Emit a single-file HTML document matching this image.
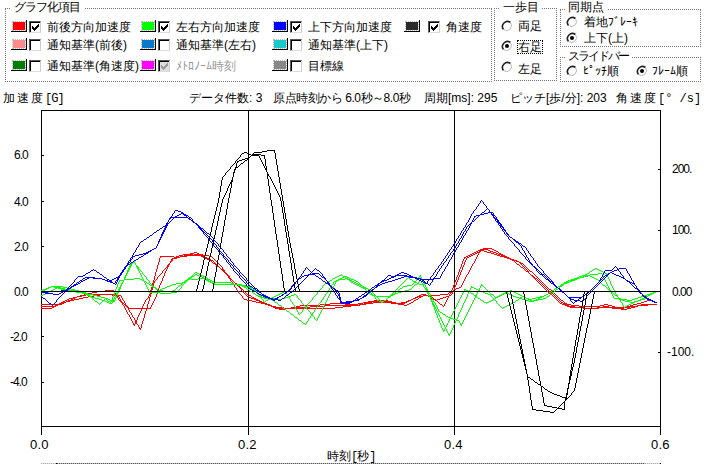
<!DOCTYPE html>
<html><head><meta charset="utf-8">
<style>
*{margin:0;padding:0;box-sizing:border-box}
html,body{width:706px;height:464px;overflow:hidden;background:#fff}
body{position:relative;font-family:"Liberation Sans",sans-serif;font-size:12px;color:#000;line-height:1}
.a{position:absolute;white-space:nowrap}
.gb{position:absolute;border:1px dotted #777}
.gt{position:absolute;background:#fff;padding:0 3px;margin-left:-2px;white-space:nowrap}
.sw{position:absolute;width:16px;height:12px;border-right:1px solid #000;border-bottom:1px solid #000}
.sw i{position:absolute;left:2px;top:2px;width:12px;height:8px;outline:1px dotted #bbb;outline-offset:0}
.cb{position:absolute;width:12px;height:12px;border-top:1px solid #555;border-left:1px solid #555;border-right:1px solid #ccc;border-bottom:1px solid #ddd;background:#fff}
.cb:before{content:"";position:absolute;left:0;top:0;right:0;bottom:0;border-top:1px solid #000;border-left:1px solid #000}
.ck{position:absolute;left:2px;top:2px}
.n{letter-spacing:-1px}
.m{font-family:"Liberation Sans",sans-serif;font-size:13px;letter-spacing:0.2px}
.rb{position:absolute;width:12px;height:12px}
</style></head><body>

<!-- group 1 -->
<div class="gb" style="left:5px;top:8px;width:487px;height:74px"></div>
<div class="gt" style="left:13px;top:1px;letter-spacing:-1px;padding-right:5px">グラフ化項目</div>

<!-- row 1 -->
<div class="sw" style="left:11px;top:20px"><i style="background:#f00"></i></div>
<div class="cb" style="left:29px;top:21px"><svg class="ck" width="7" height="7" shape-rendering="crispEdges"><path d="M0 2h1v3h-1zM1 3h1v3h-1zM2 4h1v3h-1zM3 3h1v3h-1zM4 2h1v3h-1zM5 1h1v3h-1zM6 0h1v3h-1z" fill="#000"/></svg></div>
<div class="a" style="left:47px;top:21px">前後方向加速度</div>

<div class="sw" style="left:140px;top:20px"><i style="background:#0f0"></i></div>
<div class="cb" style="left:158px;top:21px"><svg class="ck" width="7" height="7" shape-rendering="crispEdges"><path d="M0 2h1v3h-1zM1 3h1v3h-1zM2 4h1v3h-1zM3 3h1v3h-1zM4 2h1v3h-1zM5 1h1v3h-1zM6 0h1v3h-1z" fill="#000"/></svg></div>
<div class="a" style="left:176px;top:21px">左右方向加速度</div>

<div class="sw" style="left:272px;top:20px"><i style="background:#00f"></i></div>
<div class="cb" style="left:290px;top:21px"><svg class="ck" width="7" height="7" shape-rendering="crispEdges"><path d="M0 2h1v3h-1zM1 3h1v3h-1zM2 4h1v3h-1zM3 3h1v3h-1zM4 2h1v3h-1zM5 1h1v3h-1zM6 0h1v3h-1z" fill="#000"/></svg></div>
<div class="a" style="left:308px;top:21px">上下方向加速度</div>

<div class="sw" style="left:404px;top:20px"><i style="background:#2a2a2a"></i></div>
<div class="cb" style="left:428px;top:21px"><svg class="ck" width="7" height="7" shape-rendering="crispEdges"><path d="M0 2h1v3h-1zM1 3h1v3h-1zM2 4h1v3h-1zM3 3h1v3h-1zM4 2h1v3h-1zM5 1h1v3h-1zM6 0h1v3h-1z" fill="#000"/></svg></div>
<div class="a" style="left:446px;top:21px">角速度</div>

<!-- row 2 -->
<div class="sw" style="left:11px;top:38px"><i style="background:#ff8a8a"></i></div>
<div class="cb" style="left:29px;top:39px"></div>
<div class="a" style="left:47px;top:39px">通知基準(前後)</div>

<div class="sw" style="left:140px;top:38px"><i style="background:#0a7ac8"></i></div>
<div class="cb" style="left:158px;top:39px"></div>
<div class="a" style="left:176px;top:39px">通知基準(左右)</div>

<div class="sw" style="left:272px;top:38px"><i style="background:#1cc8c8"></i></div>
<div class="cb" style="left:290px;top:39px"></div>
<div class="a" style="left:308px;top:39px">通知基準(上下)</div>

<!-- row 3 -->
<div class="sw" style="left:11px;top:59px"><i style="background:#008000"></i></div>
<div class="cb" style="left:29px;top:60px"></div>
<div class="a" style="left:47px;top:60px">通知基準(角速度)</div>

<div class="sw" style="left:140px;top:59px"><i style="background:#f0f"></i></div>
<div class="cb" style="left:158px;top:60px;background:#ddd"><svg class="ck" width="7" height="7" shape-rendering="crispEdges"><path d="M0 2h1v3h-1zM1 3h1v3h-1zM2 4h1v3h-1zM3 3h1v3h-1zM4 2h1v3h-1zM5 1h1v3h-1zM6 0h1v3h-1z" fill="#999"/></svg></div>
<div class="a" style="left:176px;top:60px;color:#999">ﾒﾄﾛﾉｰﾑ時刻</div>

<div class="sw" style="left:272px;top:59px"><i style="background:#888"></i></div>
<div class="cb" style="left:290px;top:60px"></div>
<div class="a" style="left:308px;top:60px">目標線</div>

<!-- group 2 一歩目 -->
<div class="gb" style="left:494px;top:8px;width:63px;height:73px"></div>
<div class="gt" style="left:502px;top:1px">一歩目</div>
<svg class="rb" style="left:501px;top:20px" width="12" height="12"><path d="M2.5 9.5A5 5 0 0 1 9.5 2.5" stroke="#222" stroke-width="1.6" fill="none"/><path d="M9.5 2.5A5 5 0 0 1 2.5 9.5" stroke="#bbb" stroke-width="1" fill="none"/></svg>
<div class="a" style="left:518px;top:20px">両足</div>
<svg class="rb" style="left:501px;top:40px" width="12" height="12"><path d="M2.5 9.5A5 5 0 0 1 9.5 2.5" stroke="#222" stroke-width="1.6" fill="none"/><path d="M9.5 2.5A5 5 0 0 1 2.5 9.5" stroke="#bbb" stroke-width="1" fill="none"/><circle cx="6" cy="6" r="2" fill="#000"/></svg>
<div class="a" style="left:518px;top:41px;outline:1px dotted #000;outline-offset:0px">右足</div>
<svg class="rb" style="left:501px;top:61px" width="12" height="12"><path d="M2.5 9.5A5 5 0 0 1 9.5 2.5" stroke="#222" stroke-width="1.6" fill="none"/><path d="M9.5 2.5A5 5 0 0 1 2.5 9.5" stroke="#bbb" stroke-width="1" fill="none"/></svg>
<div class="a" style="left:518px;top:63px">左足</div>

<!-- group 3 同期点 -->
<div class="gb" style="left:560px;top:9px;width:141px;height:38px"></div>
<div class="gt" style="left:567px;top:1px">同期点</div>
<svg class="rb" style="left:566px;top:16px" width="12" height="12"><path d="M2.5 9.5A5 5 0 0 1 9.5 2.5" stroke="#222" stroke-width="1.6" fill="none"/><path d="M9.5 2.5A5 5 0 0 1 2.5 9.5" stroke="#bbb" stroke-width="1" fill="none"/></svg>
<div class="a" style="left:584px;top:16px">着地ﾌﾞﾚｰｷ</div>
<svg class="rb" style="left:566px;top:32px" width="12" height="12"><path d="M2.5 9.5A5 5 0 0 1 9.5 2.5" stroke="#222" stroke-width="1.6" fill="none"/><path d="M9.5 2.5A5 5 0 0 1 2.5 9.5" stroke="#bbb" stroke-width="1" fill="none"/><circle cx="6" cy="6" r="2" fill="#000"/></svg>
<div class="a" style="left:584px;top:32px">上下(上)</div>

<!-- group 4 スライドバー -->
<div class="gb" style="left:560px;top:57px;width:141px;height:25px"></div>
<div class="gt" style="left:567px;top:50px;letter-spacing:-2px">スライドバー</div>
<svg class="rb" style="left:566px;top:65px" width="12" height="12"><path d="M2.5 9.5A5 5 0 0 1 9.5 2.5" stroke="#222" stroke-width="1.6" fill="none"/><path d="M9.5 2.5A5 5 0 0 1 2.5 9.5" stroke="#bbb" stroke-width="1" fill="none"/></svg>
<div class="a" style="left:583px;top:65px">ﾋﾟｯﾁ順</div>
<svg class="rb" style="left:636px;top:65px" width="12" height="12"><path d="M2.5 9.5A5 5 0 0 1 9.5 2.5" stroke="#222" stroke-width="1.6" fill="none"/><path d="M9.5 2.5A5 5 0 0 1 2.5 9.5" stroke="#bbb" stroke-width="1" fill="none"/><circle cx="6" cy="6" r="2" fill="#000"/></svg>
<div class="a" style="left:652px;top:65px">ﾌﾚｰﾑ順</div>

<!-- info line -->
<div class="a" style="left:3px;top:92px;letter-spacing:2px">加速度<span style="font-family:'Liberation Mono';letter-spacing:-1px">[G]</span></div>
<div class="a" style="left:189px;top:92px">データ件数: 3</div>
<div class="a" style="left:273px;top:92px;letter-spacing:-0.45px">原点時刻から 6.0秒～8.0秒</div>
<div class="a" style="left:424px;top:92px">周期[ms]: 295</div>
<div class="a" style="left:510px;top:92px">ピッチ[歩/分]: 203</div>
<div class="a" style="left:616px;top:92px;letter-spacing:2px">角速度<span style="font-family:'Liberation Mono';letter-spacing:0">[° /s]</span></div>

<!-- left axis labels -->
<div class="a n" style="left:14px;top:149px">6.0</div>
<div class="a n" style="left:14px;top:196px">4.0</div>
<div class="a n" style="left:14px;top:241px">2.0</div>
<div class="a n" style="left:14px;top:286px">0.0</div>
<div class="a n" style="left:10px;top:331px">-2.0</div>
<div class="a n" style="left:10px;top:376px">-4.0</div>

<!-- right axis labels -->
<div class="a n" style="left:672px;top:163px">200.</div>
<div class="a n" style="left:672px;top:224px">100.</div>
<div class="a n" style="left:672px;top:286px">0.00</div>
<div class="a" style="left:667px;top:346px">-100.</div>

<!-- x labels -->
<div class="a m" style="left:30px;top:438px">0.0</div>
<div class="a m" style="left:238px;top:438px">0.2</div>
<div class="a m" style="left:444px;top:438px">0.4</div>
<div class="a m" style="left:651px;top:438px">0.6</div>
<div class="a" style="left:327px;top:450px">時刻<span style="font-family:'Liberation Mono';letter-spacing:-1px">[</span>秒<span style="font-family:'Liberation Mono'">]</span></div>
<div class="a" style="left:41px;top:463px;width:620px;height:1px;background:repeating-linear-gradient(90deg,#aaa 0 1px,#e4e4e4 1px 2px)"></div>
<div class="a" style="left:57px;top:463px;width:588px;height:1px;background:repeating-linear-gradient(90deg,#555 0 1px,#bbb 1px 2px)"></div>
<div class="a" style="left:56px;top:463px;width:1px;height:1px;background:#000"></div>
<div class="a" style="left:660px;top:463px;width:1px;height:1px;background:#000"></div>


<svg width="706" height="464" style="position:absolute;left:0;top:0">
<g fill="none" stroke-width="1" shape-rendering="crispEdges">
<rect x="41.5" y="110.5" width="619" height="316" stroke="#000"/>
<line x1="248.5" y1="110" x2="248.5" y2="435" stroke="#000"/>
<line x1="454.5" y1="110" x2="454.5" y2="435" stroke="#000"/>
<line x1="41.5" y1="426" x2="41.5" y2="435" stroke="#000"/>
<line x1="660.5" y1="426" x2="660.5" y2="435" stroke="#000"/>
<line x1="42" y1="155.5" x2="44" y2="155.5" stroke="#000"/>
<line x1="42" y1="201.5" x2="44" y2="201.5" stroke="#000"/>
<line x1="42" y1="246.5" x2="44" y2="246.5" stroke="#000"/>
<line x1="42" y1="336.5" x2="44" y2="336.5" stroke="#000"/>
<line x1="42" y1="382.5" x2="44" y2="382.5" stroke="#000"/>
<line x1="658" y1="169.5" x2="660" y2="169.5" stroke="#000"/>
<line x1="658" y1="230.5" x2="660" y2="230.5" stroke="#000"/>
<line x1="658" y1="352.5" x2="660" y2="352.5" stroke="#000"/>
</g>
<rect x="41" y="291" width="620" height="1" fill="#000"/>
<g shape-rendering="crispEdges">
<path fill="#ff0000" d="M483 248h9v1h-9zM480 249h8v1h-8zM492 249h2v1h-2zM478 250h6v1h-6zM488 250h2v1h-2zM494 250h2v1h-2zM476 251h2v1h-2zM479 251h2v1h-2zM484 251h3v1h-3zM490 251h3v1h-3zM496 251h2v1h-2zM194 252h3v1h-3zM474 252h2v1h-2zM477 252h3v1h-3zM487 252h4v1h-4zM493 252h3v1h-3zM498 252h1v1h-1zM190 253h4v1h-4zM197 253h2v1h-2zM472 253h2v1h-2zM475 253h2v1h-2zM478 253h1v1h-1zM491 253h3v1h-3zM496 253h2v1h-2zM499 253h2v1h-2zM183 254h10v1h-10zM194 254h9v1h-9zM470 254h2v1h-2zM473 254h2v1h-2zM478 254h1v1h-1zM494 254h3v1h-3zM498 254h5v1h-5zM179 255h4v1h-4zM184 255h25v1h-25zM468 255h2v1h-2zM471 255h2v1h-2zM477 255h1v1h-1zM497 255h3v1h-3zM501 255h4v1h-4zM160 256h14v1h-14zM176 256h3v1h-3zM180 256h7v1h-7zM201 256h4v1h-4zM209 256h3v1h-3zM466 256h2v1h-2zM469 256h2v1h-2zM477 256h1v1h-1zM500 256h7v1h-7zM160 257h1v1h-1zM174 257h6v1h-6zM203 257h4v1h-4zM212 257h1v1h-1zM464 257h2v1h-2zM467 257h2v1h-2zM476 257h1v1h-1zM504 257h5v1h-5zM159 258h1v1h-1zM172 258h5v1h-5zM205 258h4v1h-4zM213 258h1v1h-1zM464 258h1v1h-1zM466 258h1v1h-1zM476 258h1v1h-1zM507 258h4v1h-4zM159 259h1v1h-1zM171 259h2v1h-2zM207 259h4v1h-4zM214 259h1v1h-1zM463 259h1v1h-1zM466 259h1v1h-1zM475 259h1v1h-1zM510 259h4v1h-4zM159 260h1v1h-1zM171 260h2v1h-2zM209 260h4v1h-4zM215 260h1v1h-1zM463 260h1v1h-1zM465 260h1v1h-1zM475 260h1v1h-1zM512 260h5v1h-5zM159 261h1v1h-1zM170 261h2v1h-2zM211 261h1v1h-1zM213 261h1v1h-1zM216 261h1v1h-1zM462 261h1v1h-1zM465 261h1v1h-1zM474 261h1v1h-1zM514 261h1v1h-1zM516 261h3v1h-3zM158 262h1v1h-1zM170 262h1v1h-1zM212 262h1v1h-1zM214 262h1v1h-1zM217 262h1v1h-1zM462 262h1v1h-1zM464 262h1v1h-1zM474 262h1v1h-1zM515 262h1v1h-1zM519 262h2v1h-2zM158 263h1v1h-1zM169 263h1v1h-1zM213 263h3v1h-3zM218 263h1v1h-1zM462 263h1v1h-1zM464 263h1v1h-1zM473 263h1v1h-1zM516 263h1v1h-1zM520 263h3v1h-3zM158 264h1v1h-1zM168 264h2v1h-2zM215 264h2v1h-2zM219 264h1v1h-1zM461 264h1v1h-1zM464 264h1v1h-1zM472 264h1v1h-1zM517 264h2v1h-2zM521 264h1v1h-1zM523 264h1v1h-1zM157 265h1v1h-1zM167 265h2v1h-2zM216 265h2v1h-2zM220 265h1v1h-1zM461 265h1v1h-1zM463 265h1v1h-1zM472 265h1v1h-1zM519 265h1v1h-1zM522 265h1v1h-1zM524 265h1v1h-1zM157 266h1v1h-1zM167 266h2v1h-2zM217 266h2v1h-2zM221 266h1v1h-1zM461 266h1v1h-1zM463 266h1v1h-1zM471 266h1v1h-1zM520 266h1v1h-1zM523 266h1v1h-1zM525 266h1v1h-1zM157 267h1v1h-1zM166 267h2v1h-2zM219 267h1v1h-1zM222 267h1v1h-1zM460 267h1v1h-1zM462 267h1v1h-1zM471 267h1v1h-1zM521 267h2v1h-2zM524 267h1v1h-1zM526 267h1v1h-1zM157 268h1v1h-1zM165 268h1v1h-1zM167 268h1v1h-1zM220 268h1v1h-1zM222 268h1v1h-1zM460 268h1v1h-1zM462 268h1v1h-1zM470 268h1v1h-1zM523 268h1v1h-1zM525 268h1v1h-1zM527 268h1v1h-1zM156 269h1v1h-1zM164 269h1v1h-1zM166 269h1v1h-1zM221 269h3v1h-3zM459 269h1v1h-1zM462 269h1v1h-1zM470 269h1v1h-1zM524 269h1v1h-1zM526 269h1v1h-1zM528 269h1v1h-1zM156 270h1v1h-1zM163 270h1v1h-1zM166 270h1v1h-1zM222 270h3v1h-3zM459 270h1v1h-1zM461 270h1v1h-1zM469 270h1v1h-1zM525 270h1v1h-1zM527 270h1v1h-1zM529 270h1v1h-1zM156 271h1v1h-1zM162 271h1v1h-1zM165 271h1v1h-1zM223 271h2v1h-2zM459 271h1v1h-1zM461 271h1v1h-1zM469 271h1v1h-1zM526 271h3v1h-3zM530 271h2v1h-2zM155 272h1v1h-1zM162 272h1v1h-1zM165 272h1v1h-1zM224 272h2v1h-2zM458 272h1v1h-1zM460 272h1v1h-1zM468 272h1v1h-1zM528 272h1v1h-1zM532 272h1v1h-1zM155 273h1v1h-1zM161 273h1v1h-1zM164 273h1v1h-1zM225 273h2v1h-2zM458 273h1v1h-1zM460 273h1v1h-1zM468 273h1v1h-1zM529 273h1v1h-1zM533 273h1v1h-1zM155 274h1v1h-1zM160 274h1v1h-1zM164 274h1v1h-1zM226 274h2v1h-2zM458 274h1v1h-1zM460 274h1v1h-1zM467 274h1v1h-1zM530 274h1v1h-1zM534 274h1v1h-1zM155 275h1v1h-1zM159 275h1v1h-1zM164 275h1v1h-1zM227 275h2v1h-2zM457 275h1v1h-1zM459 275h1v1h-1zM466 275h1v1h-1zM531 275h2v1h-2zM535 275h1v1h-1zM154 276h1v1h-1zM158 276h1v1h-1zM163 276h1v1h-1zM228 276h2v1h-2zM457 276h1v1h-1zM459 276h1v1h-1zM466 276h1v1h-1zM532 276h2v1h-2zM536 276h1v1h-1zM154 277h1v1h-1zM157 277h1v1h-1zM163 277h1v1h-1zM228 277h2v1h-2zM456 277h1v1h-1zM458 277h1v1h-1zM465 277h1v1h-1zM533 277h2v1h-2zM537 277h1v1h-1zM154 278h1v1h-1zM157 278h1v1h-1zM162 278h1v1h-1zM229 278h2v1h-2zM456 278h1v1h-1zM458 278h1v1h-1zM465 278h1v1h-1zM534 278h3v1h-3zM538 278h1v1h-1zM154 279h1v1h-1zM156 279h1v1h-1zM162 279h1v1h-1zM230 279h2v1h-2zM456 279h1v1h-1zM458 279h1v1h-1zM464 279h1v1h-1zM535 279h1v1h-1zM537 279h1v1h-1zM539 279h1v1h-1zM153 280h1v1h-1zM155 280h1v1h-1zM162 280h1v1h-1zM230 280h1v1h-1zM232 280h1v1h-1zM455 280h1v1h-1zM457 280h1v1h-1zM464 280h1v1h-1zM536 280h1v1h-1zM538 280h1v1h-1zM540 280h1v1h-1zM153 281h2v1h-2zM161 281h1v1h-1zM231 281h1v1h-1zM233 281h1v1h-1zM455 281h1v1h-1zM457 281h1v1h-1zM463 281h1v1h-1zM537 281h1v1h-1zM539 281h1v1h-1zM541 281h1v1h-1zM153 282h2v1h-2zM161 282h1v1h-1zM232 282h1v1h-1zM234 282h1v1h-1zM454 282h1v1h-1zM456 282h1v1h-1zM463 282h1v1h-1zM538 282h1v1h-1zM540 282h1v1h-1zM542 282h1v1h-1zM152 283h2v1h-2zM160 283h1v1h-1zM232 283h1v1h-1zM235 283h2v1h-2zM454 283h1v1h-1zM456 283h1v1h-1zM462 283h1v1h-1zM539 283h1v1h-1zM541 283h1v1h-1zM543 283h1v1h-1zM152 284h2v1h-2zM160 284h1v1h-1zM233 284h1v1h-1zM236 284h2v1h-2zM454 284h1v1h-1zM456 284h1v1h-1zM462 284h1v1h-1zM540 284h1v1h-1zM542 284h1v1h-1zM544 284h1v1h-1zM152 285h2v1h-2zM159 285h1v1h-1zM234 285h1v1h-1zM237 285h2v1h-2zM453 285h1v1h-1zM455 285h1v1h-1zM461 285h1v1h-1zM541 285h1v1h-1zM543 285h1v1h-1zM545 285h1v1h-1zM152 286h2v1h-2zM159 286h1v1h-1zM234 286h1v1h-1zM238 286h2v1h-2zM453 286h1v1h-1zM455 286h1v1h-1zM461 286h1v1h-1zM542 286h1v1h-1zM544 286h1v1h-1zM546 286h1v1h-1zM151 287h2v1h-2zM159 287h1v1h-1zM235 287h1v1h-1zM239 287h2v1h-2zM453 287h2v1h-2zM459 287h2v1h-2zM543 287h1v1h-1zM545 287h1v1h-1zM547 287h1v1h-1zM151 288h2v1h-2zM158 288h1v1h-1zM236 288h1v1h-1zM240 288h2v1h-2zM452 288h1v1h-1zM454 288h1v1h-1zM456 288h3v1h-3zM544 288h1v1h-1zM546 288h1v1h-1zM548 288h1v1h-1zM151 289h2v1h-2zM158 289h1v1h-1zM236 289h1v1h-1zM241 289h2v1h-2zM452 289h1v1h-1zM454 289h2v1h-2zM545 289h1v1h-1zM547 289h1v1h-1zM549 289h2v1h-2zM105 290h9v1h-9zM150 290h2v1h-2zM157 290h1v1h-1zM237 290h1v1h-1zM241 290h1v1h-1zM243 290h1v1h-1zM451 290h1v1h-1zM453 290h1v1h-1zM546 290h1v1h-1zM548 290h1v1h-1zM551 290h1v1h-1zM97 291h8v1h-8zM114 291h1v1h-1zM150 291h2v1h-2zM157 291h1v1h-1zM238 291h1v1h-1zM242 291h1v1h-1zM244 291h1v1h-1zM451 291h3v1h-3zM547 291h1v1h-1zM549 291h2v1h-2zM552 291h1v1h-1zM92 292h5v1h-5zM114 292h1v1h-1zM150 292h2v1h-2zM157 292h1v1h-1zM238 292h1v1h-1zM243 292h1v1h-1zM245 292h1v1h-1zM449 292h4v1h-4zM548 292h1v1h-1zM551 292h1v1h-1zM553 292h1v1h-1zM88 293h4v1h-4zM115 293h1v1h-1zM150 293h2v1h-2zM157 293h1v1h-1zM239 293h1v1h-1zM244 293h1v1h-1zM246 293h1v1h-1zM448 293h1v1h-1zM450 293h1v1h-1zM452 293h1v1h-1zM549 293h2v1h-2zM552 293h1v1h-1zM554 293h1v1h-1zM84 294h34v1h-34zM149 294h2v1h-2zM156 294h1v1h-1zM240 294h1v1h-1zM245 294h1v1h-1zM247 294h2v1h-2zM421 294h5v1h-5zM440 294h8v1h-8zM449 294h1v1h-1zM451 294h1v1h-1zM551 294h1v1h-1zM553 294h1v1h-1zM555 294h1v1h-1zM80 295h6v1h-6zM94 295h6v1h-6zM112 295h9v1h-9zM149 295h2v1h-2zM156 295h1v1h-1zM241 295h1v1h-1zM246 295h1v1h-1zM249 295h2v1h-2zM419 295h2v1h-2zM423 295h17v1h-17zM449 295h2v1h-2zM552 295h1v1h-1zM554 295h1v1h-1zM556 295h1v1h-1zM77 296h5v1h-5zM88 296h6v1h-6zM117 296h2v1h-2zM121 296h1v1h-1zM148 296h1v1h-1zM150 296h1v1h-1zM156 296h1v1h-1zM242 296h1v1h-1zM247 296h2v1h-2zM251 296h1v1h-1zM417 296h6v1h-6zM428 296h4v1h-4zM446 296h3v1h-3zM553 296h1v1h-1zM555 296h1v1h-1zM557 296h1v1h-1zM73 297h4v1h-4zM83 297h5v1h-5zM117 297h1v1h-1zM119 297h1v1h-1zM121 297h1v1h-1zM148 297h2v1h-2zM155 297h1v1h-1zM242 297h1v1h-1zM249 297h2v1h-2zM252 297h2v1h-2zM415 297h3v1h-3zM419 297h2v1h-2zM430 297h1v1h-1zM432 297h1v1h-1zM443 297h3v1h-3zM448 297h1v1h-1zM554 297h1v1h-1zM556 297h1v1h-1zM558 297h1v1h-1zM69 298h6v1h-6zM79 298h4v1h-4zM118 298h2v1h-2zM122 298h1v1h-1zM147 298h1v1h-1zM149 298h1v1h-1zM155 298h1v1h-1zM243 298h1v1h-1zM251 298h5v1h-5zM413 298h3v1h-3zM418 298h1v1h-1zM431 298h3v1h-3zM440 298h3v1h-3zM447 298h1v1h-1zM555 298h1v1h-1zM557 298h1v1h-1zM559 298h1v1h-1zM67 299h2v1h-2zM71 299h2v1h-2zM74 299h5v1h-5zM118 299h1v1h-1zM120 299h1v1h-1zM122 299h1v1h-1zM146 299h1v1h-1zM149 299h1v1h-1zM154 299h1v1h-1zM244 299h3v1h-3zM254 299h4v1h-4zM411 299h2v1h-2zM416 299h2v1h-2zM433 299h3v1h-3zM437 299h3v1h-3zM447 299h1v1h-1zM556 299h1v1h-1zM558 299h1v1h-1zM560 299h1v1h-1zM65 300h2v1h-2zM68 300h6v1h-6zM119 300h2v1h-2zM123 300h1v1h-1zM145 300h1v1h-1zM149 300h1v1h-1zM154 300h1v1h-1zM247 300h5v1h-5zM256 300h4v1h-4zM374 300h14v1h-14zM408 300h3v1h-3zM414 300h2v1h-2zM435 300h2v1h-2zM446 300h1v1h-1zM557 300h1v1h-1zM559 300h1v1h-1zM561 300h2v1h-2zM647 300h2v1h-2zM63 301h2v1h-2zM66 301h4v1h-4zM120 301h2v1h-2zM124 301h1v1h-1zM145 301h1v1h-1zM148 301h1v1h-1zM153 301h1v1h-1zM252 301h4v1h-4zM259 301h3v1h-3zM368 301h12v1h-12zM383 301h9v1h-9zM406 301h3v1h-3zM413 301h1v1h-1zM437 301h1v1h-1zM446 301h1v1h-1zM558 301h1v1h-1zM560 301h1v1h-1zM563 301h1v1h-1zM644 301h3v1h-3zM61 302h5v1h-5zM121 302h2v1h-2zM124 302h1v1h-1zM144 302h1v1h-1zM148 302h1v1h-1zM153 302h1v1h-1zM256 302h8v1h-8zM363 302h9v1h-9zM373 302h23v1h-23zM401 302h6v1h-6zM411 302h2v1h-2zM438 302h1v1h-1zM445 302h1v1h-1zM559 302h1v1h-1zM561 302h2v1h-2zM564 302h1v1h-1zM641 302h3v1h-3zM59 303h5v1h-5zM122 303h2v1h-2zM125 303h1v1h-1zM144 303h1v1h-1zM148 303h1v1h-1zM152 303h1v1h-1zM261 303h6v1h-6zM330 303h15v1h-15zM358 303h5v1h-5zM364 303h9v1h-9zM391 303h14v1h-14zM409 303h2v1h-2zM439 303h1v1h-1zM445 303h1v1h-1zM560 303h2v1h-2zM563 303h4v1h-4zM637 303h4v1h-4zM41 304h21v1h-21zM122 304h1v1h-1zM124 304h2v1h-2zM143 304h1v1h-1zM147 304h1v1h-1zM152 304h1v1h-1zM265 304h5v1h-5zM320 304h10v1h-10zM345 304h13v1h-13zM359 304h7v1h-7zM398 304h6v1h-6zM407 304h2v1h-2zM440 304h2v1h-2zM444 304h1v1h-1zM562 304h9v1h-9zM604 304h4v1h-4zM633 304h4v1h-4zM641 304h16v1h-16zM55 305h3v1h-3zM123 305h1v1h-1zM125 305h2v1h-2zM143 305h1v1h-1zM147 305h1v1h-1zM151 305h1v1h-1zM268 305h4v1h-4zM300 305h20v1h-20zM325 305h35v1h-35zM404 305h3v1h-3zM442 305h1v1h-1zM444 305h1v1h-1zM565 305h4v1h-4zM571 305h8v1h-8zM600 305h4v1h-4zM608 305h4v1h-4zM630 305h3v1h-3zM637 305h11v1h-11zM41 306h15v1h-15zM124 306h1v1h-1zM126 306h2v1h-2zM142 306h1v1h-1zM147 306h1v1h-1zM151 306h1v1h-1zM271 306h5v1h-5zM296 306h4v1h-4zM310 306h15v1h-15zM343 306h8v1h-8zM443 306h1v1h-1zM567 306h8v1h-8zM579 306h21v1h-21zM603 306h6v1h-6zM612 306h3v1h-3zM626 306h12v1h-12zM52 307h2v1h-2zM124 307h1v1h-1zM127 307h2v1h-2zM142 307h1v1h-1zM147 307h1v1h-1zM150 307h1v1h-1zM273 307h11v1h-11zM291 307h19v1h-19zM335 307h8v1h-8zM570 307h15v1h-15zM597 307h33v1h-33zM631 307h4v1h-4zM41 308h11v1h-11zM125 308h1v1h-1zM128 308h23v1h-23zM275 308h60v1h-60zM583 308h16v1h-16zM612 308h12v1h-12zM627 308h4v1h-4zM125 309h1v1h-1zM128 309h1v1h-1zM141 309h1v1h-1zM146 309h1v1h-1zM279 309h6v1h-6zM621 309h6v1h-6zM126 310h1v1h-1zM129 310h1v1h-1zM141 310h1v1h-1zM146 310h1v1h-1zM126 311h1v1h-1zM129 311h1v1h-1zM140 311h1v1h-1zM145 311h1v1h-1zM127 312h1v1h-1zM130 312h1v1h-1zM140 312h1v1h-1zM145 312h1v1h-1zM127 313h1v1h-1zM131 313h1v1h-1zM139 313h1v1h-1zM145 313h1v1h-1zM128 314h1v1h-1zM131 314h1v1h-1zM139 314h1v1h-1zM144 314h1v1h-1zM129 315h1v1h-1zM132 315h1v1h-1zM138 315h1v1h-1zM144 315h1v1h-1zM129 316h1v1h-1zM132 316h1v1h-1zM138 316h1v1h-1zM144 316h1v1h-1zM130 317h1v1h-1zM133 317h1v1h-1zM137 317h1v1h-1zM144 317h1v1h-1zM130 318h1v1h-1zM134 318h1v1h-1zM137 318h1v1h-1zM143 318h1v1h-1zM131 319h1v1h-1zM134 319h1v1h-1zM137 319h1v1h-1zM143 319h1v1h-1zM131 320h1v1h-1zM135 320h2v1h-2zM143 320h1v1h-1zM132 321h1v1h-1zM135 321h2v1h-2zM142 321h1v1h-1zM132 322h1v1h-1zM135 322h2v1h-2zM142 322h1v1h-1zM133 323h1v1h-1zM135 323h2v1h-2zM142 323h1v1h-1zM133 324h2v1h-2zM137 324h1v1h-1zM141 324h1v1h-1zM134 325h1v1h-1zM138 325h1v1h-1zM141 325h1v1h-1zM138 326h1v1h-1zM141 326h1v1h-1zM139 327h1v1h-1zM141 327h1v1h-1zM139 328h2v1h-2zM140 329h1v1h-1z"/>
<path fill="#00ff00" d="M133 261h2v1h-2zM132 262h3v1h-3zM131 263h2v1h-2zM135 263h1v1h-1zM130 264h2v1h-2zM135 264h1v1h-1zM130 265h2v1h-2zM136 265h1v1h-1zM129 266h2v1h-2zM136 266h2v1h-2zM129 267h2v1h-2zM137 267h2v1h-2zM128 268h2v1h-2zM137 268h2v1h-2zM595 268h2v1h-2zM128 269h2v1h-2zM138 269h2v1h-2zM593 269h2v1h-2zM597 269h2v1h-2zM127 270h2v1h-2zM138 270h1v1h-1zM140 270h1v1h-1zM592 270h1v1h-1zM599 270h2v1h-2zM127 271h2v1h-2zM139 271h1v1h-1zM141 271h1v1h-1zM590 271h2v1h-2zM601 271h2v1h-2zM127 272h1v1h-1zM139 272h1v1h-1zM142 272h1v1h-1zM195 272h2v1h-2zM589 272h1v1h-1zM603 272h2v1h-2zM126 273h2v1h-2zM140 273h1v1h-1zM142 273h1v1h-1zM194 273h1v1h-1zM197 273h2v1h-2zM587 273h2v1h-2zM598 273h4v1h-4zM605 273h2v1h-2zM126 274h1v1h-1zM140 274h1v1h-1zM143 274h1v1h-1zM193 274h1v1h-1zM195 274h2v1h-2zM199 274h2v1h-2zM341 274h1v1h-1zM585 274h2v1h-2zM590 274h8v1h-8zM602 274h1v1h-1zM606 274h1v1h-1zM125 275h2v1h-2zM141 275h1v1h-1zM144 275h1v1h-1zM192 275h1v1h-1zM194 275h1v1h-1zM197 275h2v1h-2zM201 275h2v1h-2zM339 275h2v1h-2zM342 275h1v1h-1zM420 275h1v1h-1zM582 275h8v1h-8zM602 275h1v1h-1zM607 275h1v1h-1zM125 276h1v1h-1zM141 276h1v1h-1zM145 276h1v1h-1zM191 276h3v1h-3zM199 276h3v1h-3zM203 276h2v1h-2zM337 276h2v1h-2zM343 276h4v1h-4zM419 276h2v1h-2zM579 276h3v1h-3zM583 276h5v1h-5zM590 276h2v1h-2zM603 276h1v1h-1zM607 276h1v1h-1zM124 277h2v1h-2zM142 277h1v1h-1zM146 277h1v1h-1zM189 277h3v1h-3zM202 277h2v1h-2zM205 277h2v1h-2zM335 277h2v1h-2zM342 277h2v1h-2zM345 277h1v1h-1zM347 277h2v1h-2zM408 277h1v1h-1zM418 277h1v1h-1zM421 277h1v1h-1zM577 277h2v1h-2zM580 277h4v1h-4zM592 277h2v1h-2zM603 277h1v1h-1zM608 277h1v1h-1zM124 278h1v1h-1zM134 278h6v1h-6zM142 278h1v1h-1zM146 278h1v1h-1zM188 278h3v1h-3zM198 278h8v1h-8zM207 278h1v1h-1zM333 278h2v1h-2zM340 278h2v1h-2zM345 278h3v1h-3zM349 278h2v1h-2zM407 278h1v1h-1zM409 278h1v1h-1zM417 278h1v1h-1zM421 278h1v1h-1zM574 278h6v1h-6zM594 278h2v1h-2zM604 278h1v1h-1zM608 278h1v1h-1zM124 279h10v1h-10zM140 279h2v1h-2zM143 279h1v1h-1zM147 279h1v1h-1zM187 279h3v1h-3zM191 279h7v1h-7zM204 279h6v1h-6zM332 279h1v1h-1zM338 279h7v1h-7zM347 279h3v1h-3zM351 279h3v1h-3zM406 279h1v1h-1zM410 279h2v1h-2zM416 279h1v1h-1zM422 279h1v1h-1zM571 279h6v1h-6zM596 279h2v1h-2zM604 279h1v1h-1zM609 279h1v1h-1zM119 280h5v1h-5zM142 280h2v1h-2zM148 280h1v1h-1zM185 280h3v1h-3zM206 280h3v1h-3zM210 280h2v1h-2zM330 280h2v1h-2zM336 280h3v1h-3zM349 280h3v1h-3zM354 280h2v1h-2zM405 280h1v1h-1zM412 280h1v1h-1zM416 280h1v1h-1zM420 280h1v1h-1zM422 280h1v1h-1zM568 280h7v1h-7zM598 280h1v1h-1zM605 280h1v1h-1zM609 280h1v1h-1zM119 281h1v1h-1zM123 281h1v1h-1zM144 281h2v1h-2zM149 281h1v1h-1zM184 281h3v1h-3zM208 281h3v1h-3zM212 281h2v1h-2zM328 281h2v1h-2zM334 281h3v1h-3zM350 281h1v1h-1zM352 281h2v1h-2zM356 281h2v1h-2zM404 281h1v1h-1zM413 281h3v1h-3zM419 281h1v1h-1zM421 281h1v1h-1zM423 281h1v1h-1zM566 281h3v1h-3zM570 281h2v1h-2zM599 281h1v1h-1zM605 281h1v1h-1zM610 281h1v1h-1zM118 282h1v1h-1zM122 282h1v1h-1zM144 282h1v1h-1zM146 282h1v1h-1zM149 282h1v1h-1zM182 282h4v1h-4zM210 282h3v1h-3zM214 282h17v1h-17zM326 282h2v1h-2zM333 282h1v1h-1zM335 282h1v1h-1zM351 282h2v1h-2zM354 282h2v1h-2zM358 282h1v1h-1zM403 282h1v1h-1zM414 282h3v1h-3zM418 282h1v1h-1zM421 282h1v1h-1zM423 282h1v1h-1zM564 282h6v1h-6zM600 282h1v1h-1zM606 282h1v1h-1zM610 282h1v1h-1zM118 283h1v1h-1zM121 283h2v1h-2zM145 283h1v1h-1zM147 283h2v1h-2zM150 283h1v1h-1zM176 283h7v1h-7zM184 283h1v1h-1zM212 283h3v1h-3zM231 283h3v1h-3zM325 283h1v1h-1zM333 283h1v1h-1zM335 283h1v1h-1zM353 283h2v1h-2zM356 283h2v1h-2zM359 283h1v1h-1zM402 283h1v1h-1zM413 283h1v1h-1zM417 283h2v1h-2zM422 283h1v1h-1zM424 283h1v1h-1zM563 283h4v1h-4zM601 283h1v1h-1zM606 283h1v1h-1zM610 283h1v1h-1zM117 284h1v1h-1zM121 284h1v1h-1zM145 284h1v1h-1zM149 284h1v1h-1zM151 284h1v1h-1zM172 284h4v1h-4zM181 284h1v1h-1zM183 284h1v1h-1zM214 284h28v1h-28zM324 284h1v1h-1zM332 284h1v1h-1zM334 284h1v1h-1zM355 284h2v1h-2zM358 284h3v1h-3zM401 284h1v1h-1zM412 284h1v1h-1zM415 284h2v1h-2zM419 284h6v1h-6zM481 284h1v1h-1zM561 284h3v1h-3zM602 284h1v1h-1zM607 284h1v1h-1zM611 284h1v1h-1zM117 285h1v1h-1zM120 285h2v1h-2zM146 285h1v1h-1zM150 285h3v1h-3zM170 285h2v1h-2zM179 285h2v1h-2zM182 285h1v1h-1zM238 285h8v1h-8zM323 285h1v1h-1zM331 285h1v1h-1zM334 285h1v1h-1zM357 285h2v1h-2zM360 285h2v1h-2zM400 285h1v1h-1zM407 285h5v1h-5zM414 285h1v1h-1zM423 285h1v1h-1zM425 285h1v1h-1zM481 285h2v1h-2zM560 285h3v1h-3zM603 285h2v1h-2zM607 285h1v1h-1zM611 285h1v1h-1zM51 286h12v1h-12zM117 286h1v1h-1zM120 286h1v1h-1zM146 286h1v1h-1zM152 286h2v1h-2zM167 286h3v1h-3zM178 286h1v1h-1zM181 286h1v1h-1zM242 286h8v1h-8zM322 286h1v1h-1zM331 286h1v1h-1zM333 286h1v1h-1zM359 286h2v1h-2zM362 286h2v1h-2zM399 286h1v1h-1zM403 286h4v1h-4zM413 286h1v1h-1zM423 286h1v1h-1zM425 286h1v1h-1zM471 286h1v1h-1zM480 286h1v1h-1zM483 286h1v1h-1zM558 286h4v1h-4zM605 286h1v1h-1zM608 286h1v1h-1zM612 286h1v1h-1zM48 287h3v1h-3zM54 287h7v1h-7zM63 287h4v1h-4zM116 287h1v1h-1zM119 287h2v1h-2zM147 287h1v1h-1zM153 287h3v1h-3zM165 287h2v1h-2zM177 287h1v1h-1zM181 287h1v1h-1zM244 287h2v1h-2zM247 287h6v1h-6zM322 287h1v1h-1zM330 287h1v1h-1zM333 287h1v1h-1zM361 287h5v1h-5zM398 287h1v1h-1zM402 287h1v1h-1zM412 287h1v1h-1zM424 287h1v1h-1zM426 287h1v1h-1zM471 287h3v1h-3zM480 287h1v1h-1zM484 287h1v1h-1zM557 287h1v1h-1zM559 287h1v1h-1zM606 287h1v1h-1zM608 287h1v1h-1zM612 287h1v1h-1zM46 288h3v1h-3zM55 288h2v1h-2zM58 288h7v1h-7zM67 288h4v1h-4zM116 288h1v1h-1zM119 288h2v1h-2zM147 288h1v1h-1zM155 288h2v1h-2zM162 288h3v1h-3zM176 288h1v1h-1zM180 288h1v1h-1zM246 288h1v1h-1zM250 288h2v1h-2zM253 288h1v1h-1zM321 288h1v1h-1zM329 288h1v1h-1zM332 288h1v1h-1zM363 288h5v1h-5zM397 288h1v1h-1zM400 288h2v1h-2zM411 288h1v1h-1zM425 288h2v1h-2zM470 288h1v1h-1zM474 288h2v1h-2zM479 288h1v1h-1zM485 288h1v1h-1zM555 288h2v1h-2zM558 288h1v1h-1zM607 288h1v1h-1zM609 288h1v1h-1zM613 288h1v1h-1zM43 289h4v1h-4zM53 289h2v1h-2zM61 289h9v1h-9zM71 289h4v1h-4zM115 289h1v1h-1zM118 289h2v1h-2zM148 289h1v1h-1zM156 289h2v1h-2zM160 289h2v1h-2zM175 289h1v1h-1zM179 289h1v1h-1zM247 289h2v1h-2zM252 289h3v1h-3zM320 289h1v1h-1zM329 289h1v1h-1zM332 289h1v1h-1zM365 289h1v1h-1zM368 289h2v1h-2zM396 289h1v1h-1zM399 289h1v1h-1zM409 289h2v1h-2zM425 289h3v1h-3zM464 289h2v1h-2zM470 289h1v1h-1zM476 289h2v1h-2zM479 289h1v1h-1zM486 289h1v1h-1zM554 289h1v1h-1zM556 289h2v1h-2zM608 289h2v1h-2zM613 289h1v1h-1zM41 290h4v1h-4zM51 290h2v1h-2zM65 290h14v1h-14zM115 290h1v1h-1zM118 290h2v1h-2zM148 290h1v1h-1zM158 290h5v1h-5zM173 290h2v1h-2zM178 290h1v1h-1zM249 290h1v1h-1zM254 290h2v1h-2zM319 290h1v1h-1zM328 290h1v1h-1zM331 290h1v1h-1zM366 290h1v1h-1zM369 290h2v1h-2zM395 290h1v1h-1zM398 290h1v1h-1zM405 290h4v1h-4zM426 290h2v1h-2zM464 290h1v1h-1zM466 290h2v1h-2zM469 290h1v1h-1zM478 290h2v1h-2zM487 290h1v1h-1zM510 290h2v1h-2zM552 290h2v1h-2zM555 290h1v1h-1zM609 290h2v1h-2zM614 290h1v1h-1zM41 291h2v1h-2zM49 291h2v1h-2zM70 291h13v1h-13zM115 291h1v1h-1zM117 291h2v1h-2zM149 291h1v1h-1zM163 291h10v1h-10zM177 291h1v1h-1zM250 291h2v1h-2zM256 291h1v1h-1zM284 291h2v1h-2zM318 291h1v1h-1zM327 291h1v1h-1zM331 291h1v1h-1zM367 291h1v1h-1zM370 291h2v1h-2zM394 291h1v1h-1zM396 291h2v1h-2zM401 291h4v1h-4zM426 291h3v1h-3zM463 291h1v1h-1zM468 291h2v1h-2zM478 291h1v1h-1zM480 291h3v1h-3zM488 291h1v1h-1zM508 291h2v1h-2zM512 291h2v1h-2zM551 291h1v1h-1zM554 291h1v1h-1zM610 291h2v1h-2zM614 291h1v1h-1zM47 292h2v1h-2zM76 292h10v1h-10zM114 292h1v1h-1zM117 292h2v1h-2zM149 292h11v1h-11zM171 292h6v1h-6zM252 292h1v1h-1zM257 292h1v1h-1zM282 292h2v1h-2zM286 292h1v1h-1zM317 292h1v1h-1zM327 292h1v1h-1zM330 292h1v1h-1zM368 292h1v1h-1zM370 292h1v1h-1zM372 292h1v1h-1zM393 292h1v1h-1zM395 292h1v1h-1zM398 292h3v1h-3zM427 292h2v1h-2zM463 292h1v1h-1zM468 292h1v1h-1zM470 292h1v1h-1zM477 292h1v1h-1zM483 292h2v1h-2zM489 292h1v1h-1zM505 292h3v1h-3zM514 292h2v1h-2zM549 292h2v1h-2zM552 292h2v1h-2zM611 292h2v1h-2zM615 292h1v1h-1zM653 292h3v1h-3zM45 293h2v1h-2zM82 293h6v1h-6zM114 293h1v1h-1zM116 293h2v1h-2zM160 293h11v1h-11zM253 293h2v1h-2zM257 293h2v1h-2zM280 293h2v1h-2zM286 293h1v1h-1zM317 293h1v1h-1zM326 293h1v1h-1zM330 293h1v1h-1zM369 293h1v1h-1zM371 293h1v1h-1zM373 293h1v1h-1zM392 293h1v1h-1zM394 293h4v1h-4zM427 293h3v1h-3zM462 293h1v1h-1zM468 293h1v1h-1zM471 293h2v1h-2zM477 293h1v1h-1zM485 293h3v1h-3zM490 293h1v1h-1zM503 293h3v1h-3zM507 293h2v1h-2zM516 293h2v1h-2zM548 293h1v1h-1zM551 293h1v1h-1zM611 293h1v1h-1zM613 293h1v1h-1zM615 293h1v1h-1zM650 293h4v1h-4zM43 294h2v1h-2zM85 294h8v1h-8zM114 294h1v1h-1zM116 294h2v1h-2zM255 294h1v1h-1zM258 294h2v1h-2zM278 294h2v1h-2zM287 294h1v1h-1zM294 294h2v1h-2zM316 294h1v1h-1zM325 294h1v1h-1zM329 294h1v1h-1zM370 294h3v1h-3zM374 294h1v1h-1zM391 294h4v1h-4zM428 294h1v1h-1zM430 294h1v1h-1zM462 294h1v1h-1zM467 294h1v1h-1zM473 294h1v1h-1zM476 294h1v1h-1zM488 294h2v1h-2zM491 294h2v1h-2zM501 294h3v1h-3zM509 294h2v1h-2zM518 294h2v1h-2zM546 294h2v1h-2zM550 294h1v1h-1zM612 294h1v1h-1zM614 294h1v1h-1zM616 294h1v1h-1zM647 294h5v1h-5zM41 295h2v1h-2zM87 295h3v1h-3zM93 295h4v1h-4zM113 295h1v1h-1zM115 295h1v1h-1zM117 295h1v1h-1zM256 295h2v1h-2zM259 295h2v1h-2zM276 295h2v1h-2zM287 295h1v1h-1zM291 295h3v1h-3zM296 295h1v1h-1zM315 295h1v1h-1zM325 295h1v1h-1zM329 295h1v1h-1zM372 295h4v1h-4zM390 295h3v1h-3zM428 295h3v1h-3zM461 295h1v1h-1zM467 295h1v1h-1zM474 295h3v1h-3zM490 295h1v1h-1zM493 295h1v1h-1zM499 295h3v1h-3zM511 295h2v1h-2zM520 295h2v1h-2zM544 295h2v1h-2zM549 295h1v1h-1zM612 295h1v1h-1zM615 295h3v1h-3zM644 295h3v1h-3zM648 295h2v1h-2zM89 296h3v1h-3zM97 296h4v1h-4zM113 296h1v1h-1zM115 296h2v1h-2zM258 296h4v1h-4zM274 296h2v1h-2zM288 296h3v1h-3zM297 296h1v1h-1zM314 296h1v1h-1zM324 296h1v1h-1zM328 296h1v1h-1zM374 296h1v1h-1zM376 296h15v1h-15zM429 296h1v1h-1zM431 296h1v1h-1zM461 296h1v1h-1zM467 296h1v1h-1zM475 296h2v1h-2zM491 296h1v1h-1zM494 296h1v1h-1zM497 296h3v1h-3zM513 296h3v1h-3zM522 296h2v1h-2zM540 296h4v1h-4zM547 296h2v1h-2zM613 296h1v1h-1zM617 296h1v1h-1zM641 296h3v1h-3zM646 296h2v1h-2zM91 297h4v1h-4zM101 297h4v1h-4zM112 297h1v1h-1zM114 297h1v1h-1zM116 297h1v1h-1zM260 297h7v1h-7zM272 297h2v1h-2zM285 297h3v1h-3zM289 297h1v1h-1zM297 297h1v1h-1zM313 297h1v1h-1zM323 297h1v1h-1zM328 297h1v1h-1zM375 297h1v1h-1zM377 297h1v1h-1zM388 297h2v1h-2zM430 297h2v1h-2zM460 297h1v1h-1zM466 297h1v1h-1zM475 297h1v1h-1zM477 297h1v1h-1zM492 297h1v1h-1zM495 297h3v1h-3zM516 297h3v1h-3zM520 297h2v1h-2zM524 297h2v1h-2zM536 297h6v1h-6zM546 297h1v1h-1zM613 297h1v1h-1zM618 297h1v1h-1zM638 297h3v1h-3zM644 297h2v1h-2zM92 298h1v1h-1zM95 298h4v1h-4zM105 298h3v1h-3zM112 298h1v1h-1zM114 298h2v1h-2zM261 298h1v1h-1zM264 298h12v1h-12zM282 298h3v1h-3zM289 298h1v1h-1zM298 298h1v1h-1zM312 298h1v1h-1zM323 298h1v1h-1zM327 298h1v1h-1zM375 298h1v1h-1zM378 298h1v1h-1zM387 298h1v1h-1zM430 298h1v1h-1zM432 298h1v1h-1zM460 298h1v1h-1zM466 298h1v1h-1zM474 298h1v1h-1zM478 298h2v1h-2zM493 298h1v1h-1zM495 298h1v1h-1zM519 298h3v1h-3zM526 298h3v1h-3zM532 298h4v1h-4zM538 298h2v1h-2zM543 298h3v1h-3zM614 298h7v1h-7zM635 298h3v1h-3zM642 298h2v1h-2zM645 298h2v1h-2zM93 299h1v1h-1zM99 299h3v1h-3zM104 299h1v1h-1zM106 299h1v1h-1zM108 299h2v1h-2zM112 299h2v1h-2zM115 299h1v1h-1zM262 299h1v1h-1zM268 299h4v1h-4zM276 299h6v1h-6zM290 299h1v1h-1zM299 299h1v1h-1zM312 299h1v1h-1zM322 299h1v1h-1zM327 299h1v1h-1zM376 299h1v1h-1zM379 299h1v1h-1zM386 299h1v1h-1zM430 299h3v1h-3zM459 299h1v1h-1zM465 299h1v1h-1zM474 299h1v1h-1zM480 299h1v1h-1zM493 299h2v1h-2zM518 299h1v1h-1zM522 299h4v1h-4zM528 299h4v1h-4zM536 299h7v1h-7zM619 299h8v1h-8zM632 299h3v1h-3zM640 299h5v1h-5zM94 300h1v1h-1zM102 300h3v1h-3zM107 300h1v1h-1zM110 300h5v1h-5zM263 300h1v1h-1zM266 300h2v1h-2zM272 300h2v1h-2zM290 300h1v1h-1zM300 300h1v1h-1zM311 300h1v1h-1zM321 300h1v1h-1zM326 300h1v1h-1zM377 300h2v1h-2zM380 300h1v1h-1zM384 300h2v1h-2zM431 300h1v1h-1zM433 300h1v1h-1zM459 300h1v1h-1zM465 300h1v1h-1zM473 300h1v1h-1zM481 300h2v1h-2zM491 300h2v1h-2zM495 300h1v1h-1zM516 300h2v1h-2zM526 300h3v1h-3zM530 300h2v1h-2zM533 300h5v1h-5zM620 300h1v1h-1zM622 300h3v1h-3zM627 300h5v1h-5zM638 300h3v1h-3zM95 301h2v1h-2zM102 301h1v1h-1zM105 301h2v1h-2zM108 301h2v1h-2zM111 301h4v1h-4zM263 301h1v1h-1zM265 301h1v1h-1zM274 301h1v1h-1zM291 301h1v1h-1zM301 301h1v1h-1zM310 301h1v1h-1zM321 301h1v1h-1zM326 301h1v1h-1zM379 301h3v1h-3zM383 301h1v1h-1zM431 301h3v1h-3zM458 301h1v1h-1zM464 301h1v1h-1zM473 301h1v1h-1zM483 301h1v1h-1zM489 301h2v1h-2zM496 301h1v1h-1zM515 301h1v1h-1zM529 301h5v1h-5zM620 301h1v1h-1zM625 301h5v1h-5zM634 301h4v1h-4zM97 302h1v1h-1zM101 302h1v1h-1zM107 302h2v1h-2zM110 302h1v1h-1zM112 302h1v1h-1zM264 302h1v1h-1zM275 302h2v1h-2zM292 302h1v1h-1zM301 302h1v1h-1zM309 302h1v1h-1zM320 302h1v1h-1zM325 302h1v1h-1zM381 302h2v1h-2zM432 302h1v1h-1zM434 302h1v1h-1zM458 302h1v1h-1zM464 302h1v1h-1zM472 302h1v1h-1zM484 302h2v1h-2zM487 302h2v1h-2zM496 302h1v1h-1zM513 302h2v1h-2zM621 302h1v1h-1zM630 302h5v1h-5zM98 303h1v1h-1zM100 303h1v1h-1zM109 303h3v1h-3zM277 303h1v1h-1zM292 303h1v1h-1zM302 303h1v1h-1zM308 303h1v1h-1zM319 303h1v1h-1zM325 303h1v1h-1zM432 303h2v1h-2zM435 303h1v1h-1zM457 303h1v1h-1zM463 303h1v1h-1zM472 303h1v1h-1zM486 303h1v1h-1zM497 303h1v1h-1zM511 303h2v1h-2zM622 303h1v1h-1zM631 303h2v1h-2zM99 304h1v1h-1zM278 304h1v1h-1zM293 304h1v1h-1zM303 304h1v1h-1zM307 304h1v1h-1zM318 304h1v1h-1zM324 304h1v1h-1zM432 304h2v1h-2zM435 304h1v1h-1zM457 304h1v1h-1zM463 304h1v1h-1zM471 304h1v1h-1zM498 304h1v1h-1zM509 304h2v1h-2zM622 304h1v1h-1zM629 304h2v1h-2zM279 305h2v1h-2zM294 305h1v1h-1zM304 305h1v1h-1zM307 305h1v1h-1zM318 305h1v1h-1zM324 305h1v1h-1zM433 305h2v1h-2zM436 305h1v1h-1zM456 305h1v1h-1zM462 305h1v1h-1zM471 305h1v1h-1zM499 305h1v1h-1zM507 305h2v1h-2zM623 305h1v1h-1zM627 305h2v1h-2zM281 306h1v1h-1zM294 306h1v1h-1zM305 306h2v1h-2zM317 306h1v1h-1zM323 306h1v1h-1zM433 306h2v1h-2zM436 306h1v1h-1zM456 306h1v1h-1zM462 306h1v1h-1zM470 306h1v1h-1zM500 306h1v1h-1zM505 306h2v1h-2zM623 306h1v1h-1zM625 306h2v1h-2zM282 307h1v1h-1zM295 307h1v1h-1zM305 307h2v1h-2zM316 307h1v1h-1zM323 307h1v1h-1zM434 307h2v1h-2zM437 307h1v1h-1zM455 307h1v1h-1zM462 307h1v1h-1zM470 307h1v1h-1zM501 307h1v1h-1zM503 307h2v1h-2zM624 307h1v1h-1zM283 308h2v1h-2zM295 308h1v1h-1zM304 308h1v1h-1zM306 308h1v1h-1zM316 308h1v1h-1zM322 308h1v1h-1zM434 308h2v1h-2zM437 308h1v1h-1zM455 308h1v1h-1zM461 308h1v1h-1zM469 308h1v1h-1zM502 308h1v1h-1zM285 309h1v1h-1zM296 309h1v1h-1zM303 309h1v1h-1zM307 309h1v1h-1zM315 309h1v1h-1zM322 309h1v1h-1zM434 309h1v1h-1zM436 309h1v1h-1zM438 309h1v1h-1zM454 309h1v1h-1zM461 309h1v1h-1zM469 309h1v1h-1zM286 310h1v1h-1zM297 310h1v1h-1zM302 310h1v1h-1zM308 310h1v1h-1zM314 310h1v1h-1zM321 310h1v1h-1zM435 310h2v1h-2zM438 310h1v1h-1zM454 310h1v1h-1zM460 310h1v1h-1zM468 310h1v1h-1zM287 311h2v1h-2zM297 311h1v1h-1zM302 311h1v1h-1zM309 311h1v1h-1zM314 311h1v1h-1zM321 311h1v1h-1zM435 311h1v1h-1zM437 311h1v1h-1zM439 311h1v1h-1zM453 311h1v1h-1zM460 311h1v1h-1zM468 311h1v1h-1zM289 312h1v1h-1zM298 312h1v1h-1zM301 312h1v1h-1zM310 312h1v1h-1zM313 312h1v1h-1zM320 312h1v1h-1zM435 312h1v1h-1zM437 312h1v1h-1zM440 312h2v1h-2zM453 312h1v1h-1zM459 312h1v1h-1zM467 312h1v1h-1zM290 313h1v1h-1zM298 313h1v1h-1zM300 313h1v1h-1zM310 313h1v1h-1zM312 313h1v1h-1zM320 313h1v1h-1zM436 313h1v1h-1zM438 313h1v1h-1zM442 313h1v1h-1zM452 313h1v1h-1zM459 313h1v1h-1zM467 313h1v1h-1zM291 314h2v1h-2zM299 314h1v1h-1zM311 314h2v1h-2zM319 314h1v1h-1zM436 314h1v1h-1zM438 314h1v1h-1zM443 314h2v1h-2zM452 314h1v1h-1zM458 314h1v1h-1zM466 314h1v1h-1zM293 315h1v1h-1zM311 315h2v1h-2zM319 315h1v1h-1zM437 315h1v1h-1zM439 315h1v1h-1zM445 315h1v1h-1zM451 315h1v1h-1zM458 315h1v1h-1zM466 315h1v1h-1zM294 316h1v1h-1zM310 316h1v1h-1zM313 316h1v1h-1zM318 316h1v1h-1zM437 316h1v1h-1zM439 316h1v1h-1zM446 316h2v1h-2zM451 316h1v1h-1zM458 316h1v1h-1zM465 316h1v1h-1zM295 317h2v1h-2zM310 317h1v1h-1zM314 317h1v1h-1zM318 317h1v1h-1zM437 317h1v1h-1zM440 317h1v1h-1zM448 317h3v1h-3zM457 317h1v1h-1zM465 317h1v1h-1zM297 318h1v1h-1zM309 318h1v1h-1zM314 318h1v1h-1zM317 318h1v1h-1zM438 318h1v1h-1zM440 318h1v1h-1zM450 318h3v1h-3zM457 318h1v1h-1zM464 318h1v1h-1zM298 319h1v1h-1zM308 319h1v1h-1zM315 319h1v1h-1zM317 319h1v1h-1zM438 319h1v1h-1zM441 319h1v1h-1zM449 319h1v1h-1zM453 319h4v1h-4zM464 319h1v1h-1zM299 320h2v1h-2zM308 320h1v1h-1zM316 320h1v1h-1zM439 320h1v1h-1zM441 320h1v1h-1zM449 320h1v1h-1zM456 320h3v1h-3zM463 320h1v1h-1zM301 321h1v1h-1zM307 321h1v1h-1zM439 321h1v1h-1zM442 321h1v1h-1zM448 321h1v1h-1zM455 321h1v1h-1zM459 321h1v1h-1zM463 321h1v1h-1zM302 322h1v1h-1zM306 322h1v1h-1zM439 322h1v1h-1zM442 322h1v1h-1zM448 322h1v1h-1zM455 322h1v1h-1zM459 322h1v1h-1zM462 322h1v1h-1zM303 323h2v1h-2zM306 323h1v1h-1zM440 323h1v1h-1zM443 323h1v1h-1zM447 323h1v1h-1zM454 323h1v1h-1zM460 323h1v1h-1zM462 323h1v1h-1zM305 324h1v1h-1zM440 324h1v1h-1zM443 324h1v1h-1zM447 324h1v1h-1zM454 324h1v1h-1zM460 324h2v1h-2zM441 325h1v1h-1zM444 325h1v1h-1zM446 325h1v1h-1zM453 325h1v1h-1zM461 325h1v1h-1zM441 326h1v1h-1zM444 326h1v1h-1zM446 326h1v1h-1zM453 326h1v1h-1zM441 327h1v1h-1zM445 327h1v1h-1zM453 327h1v1h-1zM442 328h1v1h-1zM445 328h1v1h-1zM452 328h1v1h-1zM442 329h1v1h-1zM444 329h1v1h-1zM446 329h1v1h-1zM452 329h1v1h-1zM443 330h2v1h-2zM446 330h1v1h-1zM451 330h1v1h-1zM443 331h1v1h-1zM447 331h1v1h-1zM451 331h1v1h-1zM447 332h1v1h-1zM450 332h1v1h-1zM448 333h1v1h-1zM450 333h1v1h-1zM448 334h2v1h-2zM449 335h1v1h-1z"/>
<path fill="#0000ff" d="M481 200h1v1h-1zM480 201h1v1h-1zM482 201h1v1h-1zM480 202h1v1h-1zM483 202h1v1h-1zM479 203h1v1h-1zM483 203h1v1h-1zM478 204h1v1h-1zM484 204h1v1h-1zM478 205h1v1h-1zM485 205h1v1h-1zM477 206h1v1h-1zM486 206h1v1h-1zM476 207h1v1h-1zM486 207h1v1h-1zM476 208h1v1h-1zM487 208h1v1h-1zM475 209h1v1h-1zM486 209h1v1h-1zM488 209h1v1h-1zM175 210h3v1h-3zM474 210h1v1h-1zM485 210h1v1h-1zM489 210h1v1h-1zM174 211h1v1h-1zM178 211h3v1h-3zM473 211h1v1h-1zM484 211h1v1h-1zM489 211h1v1h-1zM174 212h1v1h-1zM181 212h2v1h-2zM473 212h1v1h-1zM482 212h2v1h-2zM488 212h5v1h-5zM173 213h1v1h-1zM181 213h3v1h-3zM472 213h1v1h-1zM481 213h1v1h-1zM484 213h4v1h-4zM491 213h1v1h-1zM493 213h1v1h-1zM172 214h1v1h-1zM179 214h2v1h-2zM183 214h3v1h-3zM471 214h1v1h-1zM480 214h4v1h-4zM491 214h3v1h-3zM172 215h1v1h-1zM177 215h2v1h-2zM184 215h4v1h-4zM471 215h1v1h-1zM476 215h4v1h-4zM492 215h3v1h-3zM171 216h1v1h-1zM175 216h2v1h-2zM186 216h1v1h-1zM188 216h1v1h-1zM470 216h1v1h-1zM474 216h2v1h-2zM478 216h1v1h-1zM493 216h1v1h-1zM495 216h1v1h-1zM170 217h18v1h-18zM189 217h2v1h-2zM470 217h1v1h-1zM474 217h1v1h-1zM477 217h1v1h-1zM493 217h2v1h-2zM496 217h1v1h-1zM169 218h2v1h-2zM173 218h1v1h-1zM188 218h2v1h-2zM191 218h1v1h-1zM469 218h1v1h-1zM473 218h1v1h-1zM476 218h1v1h-1zM494 218h3v1h-3zM169 219h1v1h-1zM172 219h1v1h-1zM189 219h2v1h-2zM192 219h1v1h-1zM469 219h1v1h-1zM473 219h1v1h-1zM475 219h1v1h-1zM495 219h3v1h-3zM168 220h1v1h-1zM171 220h1v1h-1zM191 220h2v1h-2zM468 220h1v1h-1zM472 220h1v1h-1zM474 220h1v1h-1zM495 220h1v1h-1zM497 220h2v1h-2zM168 221h1v1h-1zM170 221h1v1h-1zM192 221h2v1h-2zM468 221h1v1h-1zM472 221h2v1h-2zM496 221h3v1h-3zM167 222h1v1h-1zM169 222h1v1h-1zM193 222h2v1h-2zM467 222h1v1h-1zM471 222h1v1h-1zM497 222h3v1h-3zM166 223h3v1h-3zM195 223h2v1h-2zM466 223h1v1h-1zM470 223h2v1h-2zM498 223h3v1h-3zM166 224h2v1h-2zM196 224h2v1h-2zM466 224h1v1h-1zM469 224h2v1h-2zM498 224h1v1h-1zM500 224h2v1h-2zM165 225h3v1h-3zM197 225h2v1h-2zM465 225h1v1h-1zM468 225h1v1h-1zM470 225h1v1h-1zM499 225h3v1h-3zM163 226h4v1h-4zM198 226h2v1h-2zM465 226h1v1h-1zM467 226h1v1h-1zM469 226h1v1h-1zM500 226h3v1h-3zM162 227h1v1h-1zM165 227h2v1h-2zM198 227h3v1h-3zM464 227h1v1h-1zM466 227h1v1h-1zM469 227h1v1h-1zM500 227h1v1h-1zM502 227h2v1h-2zM160 228h2v1h-2zM164 228h2v1h-2zM199 228h4v1h-4zM463 228h1v1h-1zM466 228h1v1h-1zM468 228h1v1h-1zM501 228h1v1h-1zM503 228h1v1h-1zM159 229h1v1h-1zM164 229h2v1h-2zM200 229h2v1h-2zM203 229h1v1h-1zM463 229h1v1h-1zM465 229h1v1h-1zM468 229h1v1h-1zM502 229h3v1h-3zM157 230h2v1h-2zM163 230h2v1h-2zM201 230h2v1h-2zM204 230h1v1h-1zM462 230h1v1h-1zM465 230h1v1h-1zM467 230h1v1h-1zM502 230h1v1h-1zM504 230h2v1h-2zM156 231h1v1h-1zM163 231h2v1h-2zM202 231h2v1h-2zM205 231h1v1h-1zM461 231h1v1h-1zM464 231h1v1h-1zM466 231h1v1h-1zM503 231h1v1h-1zM505 231h1v1h-1zM154 232h2v1h-2zM162 232h2v1h-2zM203 232h2v1h-2zM206 232h1v1h-1zM461 232h1v1h-1zM463 232h1v1h-1zM466 232h1v1h-1zM504 232h1v1h-1zM506 232h1v1h-1zM153 233h1v1h-1zM162 233h2v1h-2zM203 233h1v1h-1zM205 233h1v1h-1zM207 233h2v1h-2zM460 233h1v1h-1zM463 233h1v1h-1zM465 233h1v1h-1zM504 233h1v1h-1zM506 233h2v1h-2zM152 234h1v1h-1zM161 234h2v1h-2zM204 234h1v1h-1zM206 234h1v1h-1zM209 234h1v1h-1zM460 234h1v1h-1zM462 234h1v1h-1zM465 234h1v1h-1zM505 234h1v1h-1zM507 234h2v1h-2zM150 235h2v1h-2zM161 235h2v1h-2zM205 235h1v1h-1zM207 235h1v1h-1zM210 235h1v1h-1zM459 235h1v1h-1zM462 235h1v1h-1zM464 235h1v1h-1zM506 235h1v1h-1zM508 235h1v1h-1zM149 236h1v1h-1zM161 236h1v1h-1zM206 236h1v1h-1zM208 236h1v1h-1zM211 236h1v1h-1zM458 236h1v1h-1zM461 236h1v1h-1zM463 236h1v1h-1zM507 236h1v1h-1zM509 236h1v1h-1zM147 237h2v1h-2zM160 237h2v1h-2zM207 237h1v1h-1zM209 237h1v1h-1zM212 237h1v1h-1zM458 237h1v1h-1zM461 237h1v1h-1zM463 237h1v1h-1zM508 237h1v1h-1zM510 237h2v1h-2zM146 238h1v1h-1zM160 238h1v1h-1zM208 238h1v1h-1zM210 238h1v1h-1zM213 238h1v1h-1zM457 238h1v1h-1zM460 238h1v1h-1zM462 238h1v1h-1zM508 238h1v1h-1zM512 238h1v1h-1zM144 239h2v1h-2zM159 239h2v1h-2zM208 239h1v1h-1zM211 239h1v1h-1zM213 239h1v1h-1zM456 239h1v1h-1zM459 239h1v1h-1zM462 239h1v1h-1zM509 239h1v1h-1zM513 239h2v1h-2zM143 240h1v1h-1zM159 240h1v1h-1zM209 240h1v1h-1zM212 240h1v1h-1zM214 240h1v1h-1zM456 240h1v1h-1zM459 240h1v1h-1zM461 240h1v1h-1zM510 240h1v1h-1zM514 240h2v1h-2zM141 241h2v1h-2zM158 241h2v1h-2zM210 241h1v1h-1zM212 241h1v1h-1zM215 241h1v1h-1zM455 241h1v1h-1zM458 241h1v1h-1zM461 241h1v1h-1zM511 241h1v1h-1zM515 241h3v1h-3zM140 242h1v1h-1zM158 242h1v1h-1zM211 242h1v1h-1zM213 242h1v1h-1zM216 242h1v1h-1zM455 242h1v1h-1zM458 242h1v1h-1zM460 242h1v1h-1zM512 242h1v1h-1zM516 242h3v1h-3zM139 243h1v1h-1zM158 243h1v1h-1zM212 243h1v1h-1zM214 243h1v1h-1zM217 243h1v1h-1zM454 243h1v1h-1zM457 243h1v1h-1zM459 243h1v1h-1zM513 243h1v1h-1zM518 243h3v1h-3zM139 244h1v1h-1zM157 244h1v1h-1zM213 244h1v1h-1zM215 244h1v1h-1zM218 244h1v1h-1zM453 244h1v1h-1zM456 244h1v1h-1zM459 244h1v1h-1zM514 244h1v1h-1zM519 244h1v1h-1zM521 244h1v1h-1zM138 245h1v1h-1zM157 245h1v1h-1zM213 245h1v1h-1zM216 245h1v1h-1zM218 245h1v1h-1zM453 245h1v1h-1zM456 245h1v1h-1zM458 245h1v1h-1zM514 245h1v1h-1zM520 245h1v1h-1zM522 245h1v1h-1zM138 246h1v1h-1zM156 246h1v1h-1zM214 246h1v1h-1zM216 246h1v1h-1zM219 246h1v1h-1zM452 246h1v1h-1zM455 246h1v1h-1zM458 246h1v1h-1zM515 246h1v1h-1zM521 246h1v1h-1zM523 246h2v1h-2zM137 247h1v1h-1zM156 247h1v1h-1zM215 247h1v1h-1zM217 247h1v1h-1zM220 247h1v1h-1zM451 247h1v1h-1zM455 247h1v1h-1zM457 247h1v1h-1zM516 247h1v1h-1zM521 247h1v1h-1zM525 247h1v1h-1zM136 248h1v1h-1zM154 248h2v1h-2zM216 248h1v1h-1zM218 248h1v1h-1zM221 248h1v1h-1zM451 248h1v1h-1zM454 248h1v1h-1zM456 248h1v1h-1zM517 248h1v1h-1zM522 248h1v1h-1zM526 248h1v1h-1zM136 249h1v1h-1zM152 249h2v1h-2zM217 249h1v1h-1zM219 249h1v1h-1zM222 249h1v1h-1zM450 249h1v1h-1zM453 249h1v1h-1zM456 249h1v1h-1zM518 249h1v1h-1zM522 249h1v1h-1zM526 249h1v1h-1zM135 250h1v1h-1zM150 250h2v1h-2zM218 250h2v1h-2zM223 250h1v1h-1zM449 250h1v1h-1zM453 250h1v1h-1zM455 250h1v1h-1zM519 250h1v1h-1zM523 250h1v1h-1zM527 250h1v1h-1zM135 251h1v1h-1zM148 251h3v1h-3zM218 251h1v1h-1zM220 251h1v1h-1zM223 251h1v1h-1zM449 251h1v1h-1zM452 251h1v1h-1zM455 251h1v1h-1zM519 251h1v1h-1zM524 251h1v1h-1zM528 251h1v1h-1zM134 252h1v1h-1zM146 252h3v1h-3zM219 252h1v1h-1zM221 252h1v1h-1zM224 252h1v1h-1zM448 252h1v1h-1zM451 252h1v1h-1zM454 252h1v1h-1zM520 252h1v1h-1zM524 252h1v1h-1zM528 252h1v1h-1zM133 253h1v1h-1zM143 253h5v1h-5zM220 253h1v1h-1zM222 253h1v1h-1zM225 253h1v1h-1zM447 253h1v1h-1zM450 253h1v1h-1zM453 253h1v1h-1zM521 253h1v1h-1zM525 253h1v1h-1zM529 253h1v1h-1zM133 254h1v1h-1zM139 254h4v1h-4zM144 254h2v1h-2zM221 254h1v1h-1zM223 254h1v1h-1zM226 254h1v1h-1zM447 254h1v1h-1zM450 254h1v1h-1zM453 254h1v1h-1zM522 254h1v1h-1zM525 254h1v1h-1zM530 254h1v1h-1zM132 255h1v1h-1zM135 255h4v1h-4zM143 255h1v1h-1zM222 255h2v1h-2zM226 255h1v1h-1zM446 255h1v1h-1zM449 255h1v1h-1zM452 255h1v1h-1zM523 255h1v1h-1zM526 255h1v1h-1zM530 255h1v1h-1zM132 256h3v1h-3zM141 256h2v1h-2zM223 256h2v1h-2zM227 256h1v1h-1zM445 256h1v1h-1zM448 256h1v1h-1zM452 256h1v1h-1zM524 256h1v1h-1zM526 256h1v1h-1zM531 256h1v1h-1zM131 257h2v1h-2zM139 257h2v1h-2zM223 257h1v1h-1zM225 257h1v1h-1zM228 257h1v1h-1zM445 257h1v1h-1zM448 257h1v1h-1zM451 257h1v1h-1zM525 257h1v1h-1zM527 257h1v1h-1zM532 257h1v1h-1zM130 258h1v1h-1zM132 258h1v1h-1zM138 258h1v1h-1zM224 258h1v1h-1zM226 258h1v1h-1zM229 258h1v1h-1zM444 258h1v1h-1zM447 258h1v1h-1zM451 258h1v1h-1zM525 258h1v1h-1zM528 258h1v1h-1zM533 258h1v1h-1zM130 259h2v1h-2zM136 259h2v1h-2zM225 259h1v1h-1zM227 259h1v1h-1zM230 259h1v1h-1zM443 259h1v1h-1zM446 259h1v1h-1zM450 259h1v1h-1zM526 259h1v1h-1zM528 259h1v1h-1zM533 259h1v1h-1zM129 260h2v1h-2zM134 260h2v1h-2zM226 260h1v1h-1zM228 260h1v1h-1zM230 260h1v1h-1zM443 260h1v1h-1zM446 260h1v1h-1zM449 260h1v1h-1zM527 260h1v1h-1zM529 260h1v1h-1zM534 260h1v1h-1zM128 261h1v1h-1zM130 261h1v1h-1zM133 261h1v1h-1zM226 261h1v1h-1zM228 261h1v1h-1zM231 261h1v1h-1zM442 261h1v1h-1zM445 261h1v1h-1zM449 261h1v1h-1zM528 261h2v1h-2zM535 261h1v1h-1zM128 262h2v1h-2zM131 262h2v1h-2zM227 262h1v1h-1zM229 262h1v1h-1zM232 262h1v1h-1zM441 262h1v1h-1zM444 262h1v1h-1zM448 262h1v1h-1zM529 262h2v1h-2zM535 262h1v1h-1zM127 263h2v1h-2zM130 263h1v1h-1zM228 263h1v1h-1zM230 263h1v1h-1zM233 263h1v1h-1zM441 263h1v1h-1zM443 263h1v1h-1zM448 263h1v1h-1zM530 263h2v1h-2zM536 263h1v1h-1zM127 264h3v1h-3zM229 264h1v1h-1zM231 264h1v1h-1zM233 264h1v1h-1zM440 264h1v1h-1zM443 264h1v1h-1zM447 264h1v1h-1zM531 264h2v1h-2zM537 264h1v1h-1zM126 265h2v1h-2zM230 265h1v1h-1zM232 265h1v1h-1zM234 265h1v1h-1zM439 265h1v1h-1zM442 265h1v1h-1zM447 265h1v1h-1zM532 265h1v1h-1zM537 265h1v1h-1zM125 266h2v1h-2zM230 266h1v1h-1zM233 266h1v1h-1zM235 266h1v1h-1zM438 266h1v1h-1zM441 266h1v1h-1zM446 266h1v1h-1zM533 266h2v1h-2zM538 266h1v1h-1zM615 266h1v1h-1zM124 267h2v1h-2zM231 267h1v1h-1zM233 267h1v1h-1zM236 267h1v1h-1zM306 267h1v1h-1zM438 267h1v1h-1zM441 267h1v1h-1zM445 267h1v1h-1zM534 267h2v1h-2zM539 267h1v1h-1zM614 267h1v1h-1zM616 267h1v1h-1zM124 268h2v1h-2zM232 268h1v1h-1zM234 268h1v1h-1zM237 268h1v1h-1zM305 268h1v1h-1zM307 268h1v1h-1zM315 268h1v1h-1zM437 268h1v1h-1zM440 268h1v1h-1zM445 268h1v1h-1zM535 268h2v1h-2zM540 268h1v1h-1zM613 268h1v1h-1zM617 268h1v1h-1zM619 268h7v1h-7zM93 269h1v1h-1zM123 269h2v1h-2zM233 269h1v1h-1zM235 269h1v1h-1zM238 269h1v1h-1zM305 269h1v1h-1zM308 269h1v1h-1zM314 269h1v1h-1zM316 269h1v1h-1zM436 269h1v1h-1zM439 269h1v1h-1zM444 269h1v1h-1zM536 269h2v1h-2zM541 269h1v1h-1zM612 269h1v1h-1zM617 269h2v1h-2zM626 269h1v1h-1zM91 270h2v1h-2zM94 270h2v1h-2zM122 270h2v1h-2zM233 270h1v1h-1zM236 270h1v1h-1zM239 270h1v1h-1zM304 270h1v1h-1zM309 270h1v1h-1zM313 270h1v1h-1zM317 270h2v1h-2zM435 270h1v1h-1zM439 270h1v1h-1zM444 270h1v1h-1zM536 270h1v1h-1zM538 270h1v1h-1zM542 270h1v1h-1zM605 270h7v1h-7zM614 270h3v1h-3zM618 270h1v1h-1zM626 270h1v1h-1zM90 271h1v1h-1zM96 271h1v1h-1zM122 271h2v1h-2zM234 271h1v1h-1zM237 271h1v1h-1zM239 271h1v1h-1zM303 271h1v1h-1zM310 271h1v1h-1zM312 271h1v1h-1zM319 271h1v1h-1zM435 271h1v1h-1zM438 271h1v1h-1zM443 271h1v1h-1zM537 271h1v1h-1zM539 271h1v1h-1zM543 271h1v1h-1zM604 271h1v1h-1zM612 271h2v1h-2zM619 271h1v1h-1zM627 271h1v1h-1zM88 272h2v1h-2zM97 272h2v1h-2zM121 272h2v1h-2zM235 272h1v1h-1zM238 272h1v1h-1zM240 272h1v1h-1zM303 272h1v1h-1zM311 272h1v1h-1zM320 272h1v1h-1zM401 272h3v1h-3zM434 272h1v1h-1zM437 272h1v1h-1zM442 272h1v1h-1zM538 272h1v1h-1zM540 272h1v1h-1zM543 272h1v1h-1zM604 272h1v1h-1zM610 272h2v1h-2zM620 272h1v1h-1zM627 272h1v1h-1zM86 273h2v1h-2zM99 273h1v1h-1zM120 273h2v1h-2zM236 273h1v1h-1zM239 273h1v1h-1zM241 273h1v1h-1zM302 273h1v1h-1zM310 273h1v1h-1zM312 273h7v1h-7zM321 273h1v1h-1zM399 273h2v1h-2zM404 273h3v1h-3zM433 273h1v1h-1zM437 273h1v1h-1zM442 273h1v1h-1zM539 273h1v1h-1zM541 273h1v1h-1zM544 273h1v1h-1zM603 273h1v1h-1zM608 273h2v1h-2zM612 273h2v1h-2zM620 273h1v1h-1zM628 273h1v1h-1zM85 274h1v1h-1zM100 274h2v1h-2zM120 274h2v1h-2zM237 274h1v1h-1zM239 274h1v1h-1zM242 274h1v1h-1zM301 274h1v1h-1zM308 274h7v1h-7zM319 274h1v1h-1zM322 274h1v1h-1zM397 274h2v1h-2zM407 274h2v1h-2zM433 274h1v1h-1zM436 274h1v1h-1zM441 274h1v1h-1zM540 274h4v1h-4zM545 274h1v1h-1zM603 274h1v1h-1zM607 274h2v1h-2zM614 274h2v1h-2zM621 274h1v1h-1zM629 274h1v1h-1zM83 275h2v1h-2zM102 275h1v1h-1zM119 275h2v1h-2zM238 275h1v1h-1zM240 275h1v1h-1zM243 275h1v1h-1zM301 275h1v1h-1zM304 275h5v1h-5zM315 275h1v1h-1zM320 275h1v1h-1zM322 275h1v1h-1zM388 275h3v1h-3zM395 275h12v1h-12zM409 275h2v1h-2zM432 275h1v1h-1zM436 275h1v1h-1zM441 275h1v1h-1zM542 275h1v1h-1zM544 275h1v1h-1zM546 275h1v1h-1zM602 275h1v1h-1zM605 275h3v1h-3zM616 275h3v1h-3zM622 275h1v1h-1zM629 275h1v1h-1zM78 276h5v1h-5zM103 276h1v1h-1zM118 276h2v1h-2zM239 276h1v1h-1zM241 276h1v1h-1zM244 276h1v1h-1zM300 276h1v1h-1zM302 276h2v1h-2zM307 276h1v1h-1zM316 276h2v1h-2zM321 276h1v1h-1zM323 276h1v1h-1zM387 276h1v1h-1zM391 276h5v1h-5zM404 276h9v1h-9zM431 276h1v1h-1zM435 276h1v1h-1zM440 276h1v1h-1zM543 276h1v1h-1zM545 276h1v1h-1zM547 276h1v1h-1zM602 276h1v1h-1zM604 276h1v1h-1zM606 276h1v1h-1zM619 276h2v1h-2zM623 276h1v1h-1zM630 276h1v1h-1zM77 277h1v1h-1zM85 277h10v1h-10zM104 277h2v1h-2zM116 277h4v1h-4zM239 277h1v1h-1zM242 277h1v1h-1zM245 277h1v1h-1zM299 277h1v1h-1zM301 277h1v1h-1zM306 277h1v1h-1zM318 277h1v1h-1zM322 277h3v1h-3zM386 277h1v1h-1zM391 277h3v1h-3zM401 277h3v1h-3zM409 277h8v1h-8zM430 277h1v1h-1zM434 277h1v1h-1zM440 277h1v1h-1zM544 277h1v1h-1zM546 277h1v1h-1zM548 277h1v1h-1zM601 277h1v1h-1zM603 277h1v1h-1zM605 277h1v1h-1zM621 277h3v1h-3zM630 277h1v1h-1zM76 278h1v1h-1zM83 278h2v1h-2zM87 278h2v1h-2zM93 278h9v1h-9zM106 278h1v1h-1zM114 278h2v1h-2zM117 278h2v1h-2zM240 278h1v1h-1zM243 278h1v1h-1zM246 278h1v1h-1zM298 278h3v1h-3zM305 278h1v1h-1zM319 278h2v1h-2zM324 278h2v1h-2zM385 278h1v1h-1zM389 278h2v1h-2zM398 278h3v1h-3zM415 278h6v1h-6zM430 278h1v1h-1zM433 278h7v1h-7zM545 278h1v1h-1zM547 278h1v1h-1zM549 278h1v1h-1zM600 278h1v1h-1zM602 278h1v1h-1zM604 278h1v1h-1zM623 278h2v1h-2zM631 278h1v1h-1zM75 279h1v1h-1zM82 279h1v1h-1zM85 279h2v1h-2zM102 279h3v1h-3zM107 279h2v1h-2zM112 279h2v1h-2zM117 279h2v1h-2zM241 279h1v1h-1zM244 279h1v1h-1zM246 279h1v1h-1zM297 279h2v1h-2zM304 279h1v1h-1zM321 279h1v1h-1zM325 279h1v1h-1zM384 279h1v1h-1zM387 279h2v1h-2zM395 279h3v1h-3zM417 279h2v1h-2zM420 279h14v1h-14zM546 279h3v1h-3zM550 279h1v1h-1zM600 279h2v1h-2zM603 279h1v1h-1zM625 279h1v1h-1zM631 279h1v1h-1zM74 280h1v1h-1zM80 280h2v1h-2zM83 280h2v1h-2zM105 280h3v1h-3zM109 280h3v1h-3zM116 280h2v1h-2zM242 280h1v1h-1zM245 280h1v1h-1zM247 280h1v1h-1zM297 280h1v1h-1zM303 280h1v1h-1zM322 280h1v1h-1zM326 280h1v1h-1zM382 280h5v1h-5zM392 280h3v1h-3zM419 280h2v1h-2zM422 280h2v1h-2zM428 280h1v1h-1zM432 280h1v1h-1zM548 280h2v1h-2zM551 280h1v1h-1zM599 280h2v1h-2zM602 280h1v1h-1zM626 280h2v1h-2zM632 280h1v1h-1zM74 281h1v1h-1zM79 281h1v1h-1zM81 281h2v1h-2zM107 281h5v1h-5zM115 281h1v1h-1zM117 281h1v1h-1zM243 281h1v1h-1zM246 281h1v1h-1zM248 281h1v1h-1zM296 281h1v1h-1zM302 281h1v1h-1zM323 281h2v1h-2zM327 281h1v1h-1zM381 281h3v1h-3zM388 281h4v1h-4zM421 281h2v1h-2zM424 281h1v1h-1zM427 281h1v1h-1zM432 281h1v1h-1zM549 281h4v1h-4zM599 281h1v1h-1zM601 281h1v1h-1zM627 281h3v1h-3zM633 281h1v1h-1zM73 282h1v1h-1zM77 282h2v1h-2zM80 282h1v1h-1zM110 282h3v1h-3zM115 282h2v1h-2zM244 282h1v1h-1zM246 282h1v1h-1zM249 282h1v1h-1zM295 282h1v1h-1zM301 282h1v1h-1zM325 282h1v1h-1zM327 282h2v1h-2zM380 282h2v1h-2zM385 282h3v1h-3zM423 282h3v1h-3zM427 282h1v1h-1zM431 282h1v1h-1zM550 282h1v1h-1zM552 282h2v1h-2zM598 282h1v1h-1zM600 282h1v1h-1zM629 282h3v1h-3zM633 282h1v1h-1zM72 283h1v1h-1zM76 283h1v1h-1zM78 283h2v1h-2zM113 283h2v1h-2zM116 283h1v1h-1zM245 283h1v1h-1zM247 283h1v1h-1zM250 283h1v1h-1zM294 283h2v1h-2zM300 283h1v1h-1zM326 283h4v1h-4zM378 283h2v1h-2zM382 283h3v1h-3zM425 283h3v1h-3zM430 283h1v1h-1zM551 283h3v1h-3zM597 283h1v1h-1zM599 283h1v1h-1zM630 283h1v1h-1zM632 283h3v1h-3zM71 284h1v1h-1zM74 284h4v1h-4zM115 284h1v1h-1zM246 284h1v1h-1zM248 284h1v1h-1zM251 284h1v1h-1zM293 284h2v1h-2zM299 284h1v1h-1zM328 284h2v1h-2zM377 284h2v1h-2zM380 284h2v1h-2zM428 284h1v1h-1zM430 284h1v1h-1zM553 284h2v1h-2zM596 284h1v1h-1zM598 284h1v1h-1zM631 284h1v1h-1zM634 284h1v1h-1zM70 285h1v1h-1zM73 285h3v1h-3zM246 285h1v1h-1zM249 285h1v1h-1zM252 285h1v1h-1zM292 285h2v1h-2zM298 285h1v1h-1zM329 285h2v1h-2zM375 285h5v1h-5zM429 285h1v1h-1zM554 285h2v1h-2zM595 285h1v1h-1zM597 285h1v1h-1zM632 285h1v1h-1zM635 285h1v1h-1zM69 286h1v1h-1zM71 286h3v1h-3zM247 286h1v1h-1zM250 286h2v1h-2zM253 286h1v1h-1zM291 286h2v1h-2zM297 286h1v1h-1zM330 286h2v1h-2zM374 286h1v1h-1zM376 286h2v1h-2zM555 286h2v1h-2zM594 286h1v1h-1zM596 286h1v1h-1zM633 286h1v1h-1zM636 286h1v1h-1zM68 287h1v1h-1zM70 287h2v1h-2zM248 287h1v1h-1zM252 287h1v1h-1zM254 287h1v1h-1zM291 287h1v1h-1zM296 287h1v1h-1zM331 287h2v1h-2zM372 287h2v1h-2zM375 287h2v1h-2zM556 287h2v1h-2zM593 287h1v1h-1zM595 287h1v1h-1zM634 287h1v1h-1zM636 287h1v1h-1zM67 288h4v1h-4zM249 288h1v1h-1zM253 288h4v1h-4zM290 288h2v1h-2zM295 288h1v1h-1zM331 288h1v1h-1zM333 288h2v1h-2zM371 288h1v1h-1zM374 288h1v1h-1zM558 288h2v1h-2zM592 288h1v1h-1zM594 288h1v1h-1zM635 288h3v1h-3zM66 289h3v1h-3zM250 289h2v1h-2zM255 289h1v1h-1zM257 289h1v1h-1zM289 289h2v1h-2zM294 289h1v1h-1zM332 289h1v1h-1zM334 289h2v1h-2zM370 289h1v1h-1zM372 289h2v1h-2zM559 289h2v1h-2zM591 289h1v1h-1zM593 289h1v1h-1zM637 289h2v1h-2zM61 290h7v1h-7zM252 290h2v1h-2zM256 290h3v1h-3zM288 290h2v1h-2zM293 290h1v1h-1zM333 290h1v1h-1zM335 290h3v1h-3zM368 290h2v1h-2zM371 290h2v1h-2zM560 290h2v1h-2zM590 290h1v1h-1zM592 290h1v1h-1zM638 290h2v1h-2zM48 291h13v1h-13zM63 291h3v1h-3zM254 291h2v1h-2zM258 291h2v1h-2zM286 291h3v1h-3zM292 291h1v1h-1zM333 291h1v1h-1zM335 291h1v1h-1zM338 291h1v1h-1zM367 291h1v1h-1zM370 291h2v1h-2zM561 291h2v1h-2zM589 291h1v1h-1zM591 291h1v1h-1zM638 291h2v1h-2zM41 292h7v1h-7zM61 292h2v1h-2zM64 292h1v1h-1zM256 292h1v1h-1zM259 292h2v1h-2zM285 292h2v1h-2zM290 292h2v1h-2zM334 292h1v1h-1zM336 292h1v1h-1zM338 292h1v1h-1zM365 292h2v1h-2zM368 292h2v1h-2zM562 292h2v1h-2zM587 292h2v1h-2zM590 292h1v1h-1zM639 292h2v1h-2zM45 293h8v1h-8zM59 293h2v1h-2zM63 293h1v1h-1zM257 293h2v1h-2zM261 293h1v1h-1zM284 293h2v1h-2zM289 293h1v1h-1zM335 293h1v1h-1zM337 293h1v1h-1zM339 293h1v1h-1zM364 293h1v1h-1zM367 293h2v1h-2zM564 293h1v1h-1zM586 293h2v1h-2zM589 293h1v1h-1zM640 293h2v1h-2zM53 294h6v1h-6zM62 294h1v1h-1zM259 294h2v1h-2zM262 294h2v1h-2zM282 294h2v1h-2zM288 294h1v1h-1zM335 294h1v1h-1zM338 294h2v1h-2zM362 294h2v1h-2zM366 294h2v1h-2zM565 294h1v1h-1zM585 294h2v1h-2zM588 294h1v1h-1zM642 294h1v1h-1zM61 295h1v1h-1zM261 295h5v1h-5zM281 295h2v1h-2zM286 295h2v1h-2zM336 295h1v1h-1zM338 295h2v1h-2zM361 295h1v1h-1zM364 295h3v1h-3zM566 295h1v1h-1zM583 295h2v1h-2zM587 295h1v1h-1zM642 295h2v1h-2zM41 296h1v1h-1zM60 296h1v1h-1zM263 296h5v1h-5zM279 296h2v1h-2zM285 296h1v1h-1zM337 296h1v1h-1zM339 296h1v1h-1zM359 296h2v1h-2zM363 296h3v1h-3zM567 296h1v1h-1zM582 296h2v1h-2zM586 296h1v1h-1zM643 296h3v1h-3zM42 297h1v1h-1zM59 297h1v1h-1zM265 297h5v1h-5zM277 297h2v1h-2zM284 297h1v1h-1zM337 297h1v1h-1zM339 297h2v1h-2zM358 297h1v1h-1zM362 297h2v1h-2zM568 297h14v1h-14zM586 297h1v1h-1zM644 297h3v1h-3zM43 298h2v1h-2zM58 298h1v1h-1zM268 298h5v1h-5zM275 298h3v1h-3zM282 298h2v1h-2zM338 298h3v1h-3zM356 298h2v1h-2zM360 298h2v1h-2zM569 298h2v1h-2zM579 298h2v1h-2zM585 298h1v1h-1zM646 298h3v1h-3zM45 299h1v1h-1zM57 299h1v1h-1zM271 299h7v1h-7zM281 299h1v1h-1zM339 299h2v1h-2zM355 299h1v1h-1zM357 299h3v1h-3zM570 299h4v1h-4zM578 299h1v1h-1zM584 299h1v1h-1zM647 299h4v1h-4zM46 300h1v1h-1zM56 300h1v1h-1zM273 300h2v1h-2zM278 300h3v1h-3zM340 300h1v1h-1zM353 300h6v1h-6zM570 300h1v1h-1zM574 300h6v1h-6zM583 300h1v1h-1zM649 300h4v1h-4zM47 301h1v1h-1zM56 301h1v1h-1zM340 301h2v1h-2zM346 301h8v1h-8zM571 301h1v1h-1zM575 301h2v1h-2zM580 301h3v1h-3zM652 301h3v1h-3zM48 302h1v1h-1zM55 302h1v1h-1zM340 302h12v1h-12zM572 302h1v1h-1zM574 302h1v1h-1zM654 302h3v1h-3zM49 303h2v1h-2zM54 303h1v1h-1zM341 303h3v1h-3zM345 303h5v1h-5zM573 303h1v1h-1zM51 304h1v1h-1zM53 304h1v1h-1zM52 305h1v1h-1z"/>
<path fill="#000000" d="M267 150h8v1h-8zM262 151h5v1h-5zM274 151h1v1h-1zM244 152h3v1h-3zM254 152h8v1h-8zM274 152h1v1h-1zM242 153h2v1h-2zM247 153h2v1h-2zM253 153h1v1h-1zM275 153h1v1h-1zM241 154h1v1h-1zM249 154h2v1h-2zM252 154h9v1h-9zM275 154h1v1h-1zM240 155h1v1h-1zM251 155h8v1h-8zM261 155h4v1h-4zM275 155h1v1h-1zM240 156h1v1h-1zM250 156h1v1h-1zM259 156h1v1h-1zM264 156h1v1h-1zM275 156h1v1h-1zM239 157h1v1h-1zM248 157h2v1h-2zM259 157h1v1h-1zM264 157h1v1h-1zM275 157h1v1h-1zM238 158h1v1h-1zM245 158h4v1h-4zM260 158h1v1h-1zM264 158h1v1h-1zM275 158h1v1h-1zM237 159h1v1h-1zM242 159h3v1h-3zM247 159h1v1h-1zM260 159h1v1h-1zM265 159h1v1h-1zM276 159h1v1h-1zM236 160h1v1h-1zM239 160h3v1h-3zM245 160h2v1h-2zM261 160h1v1h-1zM265 160h1v1h-1zM276 160h1v1h-1zM235 161h1v1h-1zM237 161h2v1h-2zM244 161h1v1h-1zM261 161h1v1h-1zM265 161h1v1h-1zM276 161h1v1h-1zM235 162h1v1h-1zM237 162h1v1h-1zM243 162h1v1h-1zM262 162h1v1h-1zM265 162h1v1h-1zM276 162h1v1h-1zM234 163h1v1h-1zM236 163h1v1h-1zM241 163h2v1h-2zM262 163h1v1h-1zM265 163h1v1h-1zM276 163h1v1h-1zM233 164h1v1h-1zM236 164h1v1h-1zM240 164h1v1h-1zM263 164h1v1h-1zM265 164h1v1h-1zM276 164h1v1h-1zM232 165h1v1h-1zM236 165h1v1h-1zM239 165h1v1h-1zM263 165h1v1h-1zM265 165h1v1h-1zM277 165h1v1h-1zM231 166h1v1h-1zM236 166h1v1h-1zM238 166h1v1h-1zM264 166h1v1h-1zM266 166h1v1h-1zM277 166h1v1h-1zM230 167h1v1h-1zM235 167h3v1h-3zM264 167h1v1h-1zM266 167h1v1h-1zM277 167h1v1h-1zM230 168h1v1h-1zM235 168h1v1h-1zM265 168h2v1h-2zM277 168h1v1h-1zM229 169h1v1h-1zM234 169h2v1h-2zM265 169h2v1h-2zM277 169h1v1h-1zM228 170h1v1h-1zM234 170h1v1h-1zM266 170h1v1h-1zM277 170h1v1h-1zM227 171h1v1h-1zM234 171h1v1h-1zM266 171h1v1h-1zM278 171h1v1h-1zM226 172h1v1h-1zM233 172h2v1h-2zM267 172h1v1h-1zM278 172h1v1h-1zM225 173h1v1h-1zM233 173h1v1h-1zM267 173h1v1h-1zM278 173h1v1h-1zM225 174h1v1h-1zM233 174h1v1h-1zM267 174h2v1h-2zM278 174h1v1h-1zM224 175h1v1h-1zM233 175h1v1h-1zM267 175h2v1h-2zM278 175h1v1h-1zM223 176h1v1h-1zM233 176h1v1h-1zM267 176h1v1h-1zM269 176h1v1h-1zM278 176h1v1h-1zM222 177h1v1h-1zM232 177h1v1h-1zM267 177h1v1h-1zM270 177h1v1h-1zM279 177h1v1h-1zM222 178h1v1h-1zM232 178h1v1h-1zM267 178h1v1h-1zM270 178h1v1h-1zM279 178h1v1h-1zM222 179h1v1h-1zM232 179h1v1h-1zM268 179h1v1h-1zM271 179h1v1h-1zM279 179h1v1h-1zM221 180h1v1h-1zM231 180h2v1h-2zM268 180h1v1h-1zM271 180h1v1h-1zM279 180h1v1h-1zM221 181h1v1h-1zM231 181h2v1h-2zM268 181h1v1h-1zM272 181h1v1h-1zM279 181h1v1h-1zM221 182h1v1h-1zM230 182h2v1h-2zM268 182h1v1h-1zM272 182h1v1h-1zM279 182h1v1h-1zM221 183h1v1h-1zM230 183h2v1h-2zM268 183h1v1h-1zM273 183h1v1h-1zM280 183h1v1h-1zM221 184h1v1h-1zM229 184h1v1h-1zM231 184h1v1h-1zM268 184h1v1h-1zM273 184h1v1h-1zM280 184h1v1h-1zM221 185h1v1h-1zM229 185h1v1h-1zM231 185h1v1h-1zM268 185h1v1h-1zM274 185h1v1h-1zM280 185h1v1h-1zM220 186h1v1h-1zM228 186h1v1h-1zM231 186h1v1h-1zM269 186h1v1h-1zM274 186h1v1h-1zM280 186h1v1h-1zM220 187h1v1h-1zM228 187h1v1h-1zM231 187h1v1h-1zM269 187h1v1h-1zM275 187h1v1h-1zM280 187h1v1h-1zM220 188h1v1h-1zM227 188h1v1h-1zM230 188h1v1h-1zM269 188h1v1h-1zM275 188h1v1h-1zM280 188h1v1h-1zM220 189h1v1h-1zM227 189h1v1h-1zM230 189h1v1h-1zM269 189h1v1h-1zM276 189h1v1h-1zM281 189h1v1h-1zM220 190h1v1h-1zM227 190h1v1h-1zM230 190h1v1h-1zM269 190h1v1h-1zM276 190h1v1h-1zM281 190h1v1h-1zM220 191h1v1h-1zM226 191h1v1h-1zM230 191h1v1h-1zM269 191h1v1h-1zM277 191h1v1h-1zM281 191h1v1h-1zM219 192h1v1h-1zM226 192h1v1h-1zM230 192h1v1h-1zM269 192h1v1h-1zM277 192h1v1h-1zM281 192h1v1h-1zM219 193h1v1h-1zM225 193h1v1h-1zM229 193h1v1h-1zM270 193h1v1h-1zM278 193h1v1h-1zM281 193h1v1h-1zM219 194h1v1h-1zM225 194h1v1h-1zM229 194h1v1h-1zM270 194h1v1h-1zM278 194h1v1h-1zM281 194h1v1h-1zM219 195h1v1h-1zM224 195h1v1h-1zM229 195h1v1h-1zM270 195h1v1h-1zM279 195h1v1h-1zM282 195h1v1h-1zM219 196h1v1h-1zM224 196h1v1h-1zM229 196h1v1h-1zM270 196h1v1h-1zM279 196h1v1h-1zM282 196h1v1h-1zM219 197h1v1h-1zM223 197h1v1h-1zM229 197h1v1h-1zM270 197h1v1h-1zM280 197h1v1h-1zM282 197h1v1h-1zM218 198h1v1h-1zM223 198h1v1h-1zM228 198h1v1h-1zM270 198h1v1h-1zM280 198h1v1h-1zM282 198h1v1h-1zM218 199h1v1h-1zM222 199h1v1h-1zM228 199h1v1h-1zM270 199h1v1h-1zM280 199h1v1h-1zM282 199h1v1h-1zM218 200h1v1h-1zM222 200h1v1h-1zM228 200h1v1h-1zM271 200h1v1h-1zM280 200h1v1h-1zM282 200h1v1h-1zM218 201h1v1h-1zM222 201h1v1h-1zM228 201h1v1h-1zM271 201h1v1h-1zM281 201h1v1h-1zM283 201h1v1h-1zM218 202h1v1h-1zM222 202h1v1h-1zM228 202h1v1h-1zM271 202h1v1h-1zM281 202h1v1h-1zM283 202h1v1h-1zM217 203h1v1h-1zM221 203h1v1h-1zM227 203h1v1h-1zM271 203h1v1h-1zM281 203h1v1h-1zM283 203h1v1h-1zM217 204h1v1h-1zM221 204h1v1h-1zM227 204h1v1h-1zM271 204h1v1h-1zM281 204h1v1h-1zM283 204h1v1h-1zM217 205h1v1h-1zM221 205h1v1h-1zM227 205h1v1h-1zM271 205h1v1h-1zM281 205h1v1h-1zM283 205h1v1h-1zM217 206h1v1h-1zM221 206h1v1h-1zM227 206h1v1h-1zM272 206h1v1h-1zM281 206h1v1h-1zM283 206h1v1h-1zM216 207h1v1h-1zM220 207h1v1h-1zM227 207h1v1h-1zM272 207h1v1h-1zM282 207h1v1h-1zM284 207h1v1h-1zM216 208h1v1h-1zM220 208h1v1h-1zM227 208h1v1h-1zM272 208h1v1h-1zM282 208h1v1h-1zM284 208h1v1h-1zM216 209h1v1h-1zM220 209h1v1h-1zM226 209h1v1h-1zM272 209h1v1h-1zM282 209h1v1h-1zM284 209h1v1h-1zM216 210h1v1h-1zM220 210h1v1h-1zM226 210h1v1h-1zM272 210h1v1h-1zM282 210h1v1h-1zM284 210h1v1h-1zM215 211h1v1h-1zM220 211h1v1h-1zM226 211h1v1h-1zM272 211h1v1h-1zM282 211h1v1h-1zM284 211h1v1h-1zM215 212h1v1h-1zM219 212h1v1h-1zM226 212h1v1h-1zM272 212h1v1h-1zM282 212h1v1h-1zM284 212h1v1h-1zM215 213h1v1h-1zM219 213h1v1h-1zM226 213h1v1h-1zM273 213h1v1h-1zM283 213h1v1h-1zM285 213h1v1h-1zM215 214h1v1h-1zM219 214h1v1h-1zM226 214h1v1h-1zM273 214h1v1h-1zM283 214h1v1h-1zM285 214h1v1h-1zM214 215h1v1h-1zM219 215h1v1h-1zM225 215h1v1h-1zM273 215h1v1h-1zM283 215h1v1h-1zM285 215h1v1h-1zM214 216h1v1h-1zM218 216h1v1h-1zM225 216h1v1h-1zM273 216h1v1h-1zM283 216h1v1h-1zM285 216h1v1h-1zM214 217h1v1h-1zM218 217h1v1h-1zM225 217h1v1h-1zM273 217h1v1h-1zM283 217h1v1h-1zM285 217h1v1h-1zM214 218h1v1h-1zM218 218h1v1h-1zM225 218h1v1h-1zM273 218h1v1h-1zM283 218h1v1h-1zM285 218h1v1h-1zM213 219h1v1h-1zM218 219h1v1h-1zM225 219h1v1h-1zM273 219h1v1h-1zM284 219h1v1h-1zM286 219h1v1h-1zM213 220h1v1h-1zM218 220h1v1h-1zM224 220h1v1h-1zM274 220h1v1h-1zM284 220h1v1h-1zM286 220h1v1h-1zM213 221h1v1h-1zM217 221h1v1h-1zM224 221h1v1h-1zM274 221h1v1h-1zM284 221h1v1h-1zM286 221h1v1h-1zM213 222h1v1h-1zM217 222h1v1h-1zM224 222h1v1h-1zM274 222h1v1h-1zM284 222h1v1h-1zM286 222h1v1h-1zM212 223h1v1h-1zM217 223h1v1h-1zM224 223h1v1h-1zM274 223h1v1h-1zM284 223h1v1h-1zM286 223h1v1h-1zM212 224h1v1h-1zM217 224h1v1h-1zM224 224h1v1h-1zM274 224h1v1h-1zM284 224h1v1h-1zM286 224h1v1h-1zM212 225h1v1h-1zM217 225h1v1h-1zM224 225h1v1h-1zM274 225h1v1h-1zM284 225h1v1h-1zM287 225h1v1h-1zM212 226h1v1h-1zM216 226h1v1h-1zM223 226h1v1h-1zM274 226h1v1h-1zM285 226h1v1h-1zM287 226h1v1h-1zM211 227h1v1h-1zM216 227h1v1h-1zM223 227h1v1h-1zM275 227h1v1h-1zM285 227h1v1h-1zM287 227h1v1h-1zM211 228h1v1h-1zM216 228h1v1h-1zM223 228h1v1h-1zM275 228h1v1h-1zM285 228h1v1h-1zM287 228h1v1h-1zM211 229h1v1h-1zM216 229h1v1h-1zM223 229h1v1h-1zM275 229h1v1h-1zM285 229h1v1h-1zM287 229h1v1h-1zM211 230h1v1h-1zM215 230h1v1h-1zM223 230h1v1h-1zM275 230h1v1h-1zM285 230h1v1h-1zM287 230h1v1h-1zM211 231h1v1h-1zM215 231h1v1h-1zM223 231h1v1h-1zM275 231h1v1h-1zM285 231h1v1h-1zM288 231h1v1h-1zM210 232h1v1h-1zM215 232h1v1h-1zM222 232h1v1h-1zM275 232h1v1h-1zM286 232h1v1h-1zM288 232h1v1h-1zM210 233h1v1h-1zM215 233h1v1h-1zM222 233h1v1h-1zM275 233h1v1h-1zM286 233h1v1h-1zM288 233h1v1h-1zM210 234h1v1h-1zM215 234h1v1h-1zM222 234h1v1h-1zM276 234h1v1h-1zM286 234h1v1h-1zM288 234h1v1h-1zM210 235h1v1h-1zM214 235h1v1h-1zM222 235h1v1h-1zM276 235h1v1h-1zM286 235h1v1h-1zM288 235h1v1h-1zM209 236h1v1h-1zM214 236h1v1h-1zM222 236h1v1h-1zM276 236h1v1h-1zM286 236h1v1h-1zM288 236h1v1h-1zM209 237h1v1h-1zM214 237h1v1h-1zM221 237h1v1h-1zM276 237h1v1h-1zM286 237h1v1h-1zM289 237h1v1h-1zM209 238h1v1h-1zM214 238h1v1h-1zM221 238h1v1h-1zM276 238h1v1h-1zM287 238h1v1h-1zM289 238h1v1h-1zM209 239h1v1h-1zM213 239h1v1h-1zM221 239h1v1h-1zM276 239h1v1h-1zM287 239h1v1h-1zM289 239h1v1h-1zM208 240h1v1h-1zM213 240h1v1h-1zM221 240h1v1h-1zM277 240h1v1h-1zM287 240h1v1h-1zM289 240h1v1h-1zM208 241h1v1h-1zM213 241h1v1h-1zM221 241h1v1h-1zM277 241h1v1h-1zM287 241h1v1h-1zM289 241h1v1h-1zM208 242h1v1h-1zM213 242h1v1h-1zM221 242h1v1h-1zM277 242h1v1h-1zM287 242h1v1h-1zM289 242h1v1h-1zM208 243h1v1h-1zM213 243h1v1h-1zM220 243h1v1h-1zM277 243h1v1h-1zM287 243h1v1h-1zM290 243h1v1h-1zM207 244h1v1h-1zM212 244h1v1h-1zM220 244h1v1h-1zM277 244h1v1h-1zM288 244h1v1h-1zM290 244h1v1h-1zM207 245h1v1h-1zM212 245h1v1h-1zM220 245h1v1h-1zM277 245h1v1h-1zM288 245h1v1h-1zM290 245h1v1h-1zM207 246h1v1h-1zM212 246h1v1h-1zM220 246h1v1h-1zM277 246h1v1h-1zM288 246h1v1h-1zM290 246h1v1h-1zM207 247h1v1h-1zM212 247h1v1h-1zM220 247h1v1h-1zM278 247h1v1h-1zM288 247h1v1h-1zM290 247h1v1h-1zM206 248h1v1h-1zM211 248h1v1h-1zM220 248h1v1h-1zM278 248h1v1h-1zM288 248h1v1h-1zM291 248h1v1h-1zM206 249h1v1h-1zM211 249h1v1h-1zM219 249h1v1h-1zM278 249h1v1h-1zM288 249h1v1h-1zM291 249h1v1h-1zM206 250h1v1h-1zM211 250h1v1h-1zM219 250h1v1h-1zM278 250h1v1h-1zM288 250h1v1h-1zM291 250h1v1h-1zM206 251h1v1h-1zM211 251h1v1h-1zM219 251h1v1h-1zM278 251h1v1h-1zM289 251h1v1h-1zM291 251h1v1h-1zM205 252h1v1h-1zM211 252h1v1h-1zM219 252h1v1h-1zM278 252h1v1h-1zM289 252h1v1h-1zM291 252h1v1h-1zM205 253h1v1h-1zM210 253h1v1h-1zM219 253h1v1h-1zM278 253h1v1h-1zM289 253h1v1h-1zM292 253h1v1h-1zM205 254h1v1h-1zM210 254h1v1h-1zM219 254h1v1h-1zM279 254h1v1h-1zM289 254h1v1h-1zM292 254h1v1h-1zM205 255h1v1h-1zM210 255h1v1h-1zM218 255h1v1h-1zM279 255h1v1h-1zM289 255h1v1h-1zM292 255h1v1h-1zM204 256h1v1h-1zM210 256h1v1h-1zM218 256h1v1h-1zM279 256h1v1h-1zM289 256h1v1h-1zM292 256h1v1h-1zM204 257h1v1h-1zM209 257h1v1h-1zM218 257h1v1h-1zM279 257h1v1h-1zM290 257h1v1h-1zM292 257h1v1h-1zM204 258h1v1h-1zM209 258h1v1h-1zM218 258h1v1h-1zM279 258h1v1h-1zM290 258h1v1h-1zM293 258h1v1h-1zM204 259h1v1h-1zM209 259h1v1h-1zM218 259h1v1h-1zM279 259h1v1h-1zM290 259h1v1h-1zM293 259h1v1h-1zM203 260h1v1h-1zM209 260h1v1h-1zM217 260h1v1h-1zM279 260h1v1h-1zM290 260h1v1h-1zM293 260h1v1h-1zM203 261h1v1h-1zM209 261h1v1h-1zM217 261h1v1h-1zM280 261h1v1h-1zM290 261h1v1h-1zM293 261h1v1h-1zM203 262h1v1h-1zM208 262h1v1h-1zM217 262h1v1h-1zM280 262h1v1h-1zM290 262h1v1h-1zM293 262h1v1h-1zM203 263h1v1h-1zM208 263h1v1h-1zM217 263h1v1h-1zM280 263h1v1h-1zM291 263h1v1h-1zM294 263h1v1h-1zM203 264h1v1h-1zM208 264h1v1h-1zM217 264h1v1h-1zM280 264h1v1h-1zM291 264h1v1h-1zM294 264h1v1h-1zM202 265h1v1h-1zM208 265h1v1h-1zM217 265h1v1h-1zM280 265h1v1h-1zM291 265h1v1h-1zM294 265h1v1h-1zM202 266h1v1h-1zM207 266h1v1h-1zM216 266h1v1h-1zM280 266h1v1h-1zM291 266h1v1h-1zM294 266h1v1h-1zM202 267h1v1h-1zM207 267h1v1h-1zM216 267h1v1h-1zM280 267h1v1h-1zM291 267h1v1h-1zM294 267h1v1h-1zM202 268h1v1h-1zM207 268h1v1h-1zM216 268h1v1h-1zM281 268h1v1h-1zM291 268h1v1h-1zM294 268h1v1h-1zM201 269h1v1h-1zM207 269h1v1h-1zM216 269h1v1h-1zM281 269h1v1h-1zM291 269h1v1h-1zM295 269h1v1h-1zM201 270h1v1h-1zM207 270h1v1h-1zM216 270h1v1h-1zM281 270h1v1h-1zM292 270h1v1h-1zM295 270h1v1h-1zM201 271h1v1h-1zM206 271h1v1h-1zM216 271h1v1h-1zM281 271h1v1h-1zM292 271h1v1h-1zM295 271h1v1h-1zM201 272h1v1h-1zM206 272h1v1h-1zM215 272h1v1h-1zM281 272h1v1h-1zM292 272h1v1h-1zM295 272h1v1h-1zM200 273h1v1h-1zM206 273h1v1h-1zM215 273h1v1h-1zM281 273h1v1h-1zM292 273h1v1h-1zM295 273h1v1h-1zM200 274h1v1h-1zM206 274h1v1h-1zM215 274h1v1h-1zM282 274h1v1h-1zM292 274h1v1h-1zM296 274h1v1h-1zM200 275h1v1h-1zM206 275h1v1h-1zM215 275h1v1h-1zM282 275h1v1h-1zM292 275h1v1h-1zM296 275h1v1h-1zM200 276h1v1h-1zM205 276h1v1h-1zM215 276h1v1h-1zM282 276h1v1h-1zM293 276h1v1h-1zM296 276h1v1h-1zM199 277h1v1h-1zM205 277h1v1h-1zM214 277h1v1h-1zM282 277h1v1h-1zM293 277h1v1h-1zM296 277h1v1h-1zM199 278h1v1h-1zM205 278h1v1h-1zM214 278h1v1h-1zM282 278h1v1h-1zM293 278h1v1h-1zM296 278h1v1h-1zM199 279h1v1h-1zM205 279h1v1h-1zM214 279h1v1h-1zM282 279h1v1h-1zM293 279h1v1h-1zM297 279h1v1h-1zM199 280h1v1h-1zM204 280h1v1h-1zM214 280h1v1h-1zM282 280h1v1h-1zM293 280h1v1h-1zM297 280h1v1h-1zM198 281h1v1h-1zM204 281h1v1h-1zM214 281h1v1h-1zM283 281h1v1h-1zM293 281h1v1h-1zM297 281h1v1h-1zM198 282h1v1h-1zM204 282h1v1h-1zM214 282h1v1h-1zM283 282h1v1h-1zM294 282h1v1h-1zM297 282h1v1h-1zM198 283h1v1h-1zM204 283h1v1h-1zM213 283h1v1h-1zM283 283h1v1h-1zM294 283h1v1h-1zM297 283h1v1h-1zM198 284h1v1h-1zM204 284h1v1h-1zM213 284h1v1h-1zM283 284h1v1h-1zM294 284h1v1h-1zM298 284h1v1h-1zM197 285h1v1h-1zM203 285h1v1h-1zM213 285h1v1h-1zM283 285h1v1h-1zM294 285h1v1h-1zM298 285h1v1h-1zM197 286h1v1h-1zM203 286h1v1h-1zM213 286h1v1h-1zM283 286h1v1h-1zM294 286h1v1h-1zM298 286h1v1h-1zM197 287h1v1h-1zM203 287h1v1h-1zM213 287h1v1h-1zM283 287h1v1h-1zM294 287h1v1h-1zM298 287h1v1h-1zM197 288h1v1h-1zM203 288h1v1h-1zM213 288h1v1h-1zM284 288h1v1h-1zM295 288h1v1h-1zM298 288h1v1h-1zM196 289h1v1h-1zM202 289h1v1h-1zM212 289h1v1h-1zM284 289h1v1h-1zM295 289h1v1h-1zM299 289h1v1h-1zM196 290h1v1h-1zM202 290h1v1h-1zM212 290h1v1h-1zM284 290h1v1h-1zM295 290h1v1h-1zM299 290h1v1h-1zM41 291h172v1h-172zM284 291h240v1h-240zM584 291h73v1h-73zM506 292h1v1h-1zM510 292h1v1h-1zM523 292h1v1h-1zM584 292h1v1h-1zM587 292h1v1h-1zM594 292h1v1h-1zM506 293h1v1h-1zM510 293h1v1h-1zM523 293h1v1h-1zM584 293h1v1h-1zM587 293h1v1h-1zM594 293h1v1h-1zM507 294h1v1h-1zM511 294h1v1h-1zM524 294h1v1h-1zM583 294h1v1h-1zM586 294h1v1h-1zM593 294h1v1h-1zM507 295h1v1h-1zM511 295h1v1h-1zM524 295h1v1h-1zM583 295h1v1h-1zM586 295h1v1h-1zM593 295h1v1h-1zM507 296h1v1h-1zM511 296h1v1h-1zM524 296h1v1h-1zM583 296h1v1h-1zM586 296h1v1h-1zM593 296h1v1h-1zM507 297h1v1h-1zM511 297h1v1h-1zM524 297h1v1h-1zM583 297h1v1h-1zM586 297h1v1h-1zM593 297h1v1h-1zM508 298h1v1h-1zM511 298h1v1h-1zM524 298h1v1h-1zM583 298h1v1h-1zM586 298h1v1h-1zM593 298h1v1h-1zM508 299h1v1h-1zM512 299h1v1h-1zM524 299h1v1h-1zM583 299h1v1h-1zM585 299h1v1h-1zM592 299h1v1h-1zM508 300h1v1h-1zM512 300h1v1h-1zM525 300h1v1h-1zM582 300h1v1h-1zM585 300h1v1h-1zM592 300h1v1h-1zM508 301h1v1h-1zM512 301h1v1h-1zM525 301h1v1h-1zM582 301h1v1h-1zM585 301h1v1h-1zM592 301h1v1h-1zM509 302h1v1h-1zM512 302h1v1h-1zM525 302h1v1h-1zM582 302h1v1h-1zM585 302h1v1h-1zM592 302h1v1h-1zM509 303h1v1h-1zM512 303h1v1h-1zM525 303h1v1h-1zM582 303h1v1h-1zM585 303h1v1h-1zM592 303h1v1h-1zM509 304h1v1h-1zM513 304h1v1h-1zM525 304h1v1h-1zM582 304h1v1h-1zM585 304h1v1h-1zM591 304h1v1h-1zM509 305h1v1h-1zM513 305h1v1h-1zM526 305h1v1h-1zM582 305h1v1h-1zM584 305h1v1h-1zM591 305h1v1h-1zM510 306h1v1h-1zM513 306h1v1h-1zM526 306h1v1h-1zM581 306h1v1h-1zM584 306h1v1h-1zM591 306h1v1h-1zM510 307h1v1h-1zM513 307h1v1h-1zM526 307h1v1h-1zM581 307h1v1h-1zM584 307h1v1h-1zM591 307h1v1h-1zM510 308h1v1h-1zM513 308h1v1h-1zM526 308h1v1h-1zM581 308h1v1h-1zM584 308h1v1h-1zM591 308h1v1h-1zM510 309h1v1h-1zM514 309h1v1h-1zM526 309h1v1h-1zM581 309h1v1h-1zM584 309h1v1h-1zM590 309h1v1h-1zM511 310h1v1h-1zM514 310h1v1h-1zM527 310h1v1h-1zM581 310h1v1h-1zM583 310h1v1h-1zM590 310h1v1h-1zM511 311h1v1h-1zM514 311h1v1h-1zM527 311h1v1h-1zM581 311h1v1h-1zM583 311h1v1h-1zM590 311h1v1h-1zM511 312h1v1h-1zM514 312h1v1h-1zM527 312h1v1h-1zM580 312h1v1h-1zM583 312h1v1h-1zM590 312h1v1h-1zM511 313h1v1h-1zM514 313h1v1h-1zM527 313h1v1h-1zM580 313h1v1h-1zM583 313h1v1h-1zM590 313h1v1h-1zM512 314h1v1h-1zM515 314h1v1h-1zM527 314h1v1h-1zM580 314h1v1h-1zM583 314h1v1h-1zM589 314h1v1h-1zM512 315h1v1h-1zM515 315h1v1h-1zM527 315h1v1h-1zM580 315h1v1h-1zM582 315h1v1h-1zM589 315h1v1h-1zM512 316h1v1h-1zM515 316h1v1h-1zM528 316h1v1h-1zM580 316h1v1h-1zM582 316h1v1h-1zM589 316h1v1h-1zM512 317h1v1h-1zM515 317h1v1h-1zM528 317h1v1h-1zM579 317h1v1h-1zM582 317h1v1h-1zM589 317h1v1h-1zM513 318h1v1h-1zM515 318h1v1h-1zM528 318h1v1h-1zM579 318h1v1h-1zM582 318h1v1h-1zM589 318h1v1h-1zM513 319h1v1h-1zM516 319h1v1h-1zM528 319h1v1h-1zM579 319h1v1h-1zM582 319h1v1h-1zM588 319h1v1h-1zM513 320h1v1h-1zM516 320h1v1h-1zM528 320h1v1h-1zM579 320h1v1h-1zM582 320h1v1h-1zM588 320h1v1h-1zM513 321h1v1h-1zM516 321h1v1h-1zM529 321h1v1h-1zM579 321h1v1h-1zM581 321h1v1h-1zM588 321h1v1h-1zM514 322h1v1h-1zM516 322h1v1h-1zM529 322h1v1h-1zM579 322h1v1h-1zM581 322h1v1h-1zM588 322h1v1h-1zM514 323h1v1h-1zM516 323h1v1h-1zM529 323h1v1h-1zM578 323h1v1h-1zM581 323h1v1h-1zM588 323h1v1h-1zM514 324h1v1h-1zM517 324h1v1h-1zM529 324h1v1h-1zM578 324h1v1h-1zM581 324h1v1h-1zM587 324h1v1h-1zM514 325h1v1h-1zM517 325h1v1h-1zM529 325h1v1h-1zM578 325h1v1h-1zM581 325h1v1h-1zM587 325h1v1h-1zM515 326h1v1h-1zM517 326h1v1h-1zM529 326h1v1h-1zM578 326h1v1h-1zM580 326h1v1h-1zM587 326h1v1h-1zM515 327h1v1h-1zM517 327h1v1h-1zM530 327h1v1h-1zM578 327h1v1h-1zM580 327h1v1h-1zM587 327h1v1h-1zM515 328h1v1h-1zM517 328h1v1h-1zM530 328h1v1h-1zM578 328h1v1h-1zM580 328h1v1h-1zM586 328h1v1h-1zM515 329h1v1h-1zM518 329h1v1h-1zM530 329h1v1h-1zM577 329h1v1h-1zM580 329h1v1h-1zM586 329h1v1h-1zM516 330h1v1h-1zM518 330h1v1h-1zM530 330h1v1h-1zM577 330h1v1h-1zM580 330h1v1h-1zM586 330h1v1h-1zM516 331h1v1h-1zM518 331h1v1h-1zM530 331h1v1h-1zM577 331h1v1h-1zM579 331h1v1h-1zM586 331h1v1h-1zM516 332h1v1h-1zM518 332h1v1h-1zM531 332h1v1h-1zM577 332h1v1h-1zM579 332h1v1h-1zM586 332h1v1h-1zM516 333h1v1h-1zM518 333h1v1h-1zM531 333h1v1h-1zM577 333h1v1h-1zM579 333h1v1h-1zM585 333h1v1h-1zM517 334h1v1h-1zM519 334h1v1h-1zM531 334h1v1h-1zM577 334h1v1h-1zM579 334h1v1h-1zM585 334h1v1h-1zM517 335h1v1h-1zM519 335h1v1h-1zM531 335h1v1h-1zM576 335h1v1h-1zM579 335h1v1h-1zM585 335h1v1h-1zM517 336h1v1h-1zM519 336h1v1h-1zM531 336h1v1h-1zM576 336h1v1h-1zM579 336h1v1h-1zM585 336h1v1h-1zM517 337h1v1h-1zM519 337h1v1h-1zM531 337h1v1h-1zM576 337h1v1h-1zM578 337h1v1h-1zM585 337h1v1h-1zM518 338h2v1h-2zM532 338h1v1h-1zM576 338h1v1h-1zM578 338h1v1h-1zM584 338h1v1h-1zM518 339h1v1h-1zM520 339h1v1h-1zM532 339h1v1h-1zM576 339h1v1h-1zM578 339h1v1h-1zM584 339h1v1h-1zM518 340h1v1h-1zM520 340h1v1h-1zM532 340h1v1h-1zM575 340h1v1h-1zM578 340h1v1h-1zM584 340h1v1h-1zM518 341h1v1h-1zM520 341h1v1h-1zM532 341h1v1h-1zM575 341h1v1h-1zM578 341h1v1h-1zM584 341h1v1h-1zM519 342h2v1h-2zM532 342h1v1h-1zM575 342h1v1h-1zM577 342h1v1h-1zM584 342h1v1h-1zM519 343h2v1h-2zM533 343h1v1h-1zM575 343h1v1h-1zM577 343h1v1h-1zM583 343h1v1h-1zM519 344h1v1h-1zM521 344h1v1h-1zM533 344h1v1h-1zM575 344h1v1h-1zM577 344h1v1h-1zM583 344h1v1h-1zM519 345h1v1h-1zM521 345h1v1h-1zM533 345h1v1h-1zM575 345h1v1h-1zM577 345h1v1h-1zM583 345h1v1h-1zM520 346h2v1h-2zM533 346h1v1h-1zM574 346h1v1h-1zM577 346h1v1h-1zM583 346h1v1h-1zM520 347h2v1h-2zM533 347h1v1h-1zM574 347h1v1h-1zM576 347h1v1h-1zM583 347h1v1h-1zM520 348h2v1h-2zM534 348h1v1h-1zM574 348h1v1h-1zM576 348h1v1h-1zM582 348h1v1h-1zM520 349h1v1h-1zM522 349h1v1h-1zM534 349h1v1h-1zM574 349h1v1h-1zM576 349h1v1h-1zM582 349h1v1h-1zM521 350h2v1h-2zM534 350h1v1h-1zM574 350h1v1h-1zM576 350h1v1h-1zM582 350h1v1h-1zM521 351h2v1h-2zM534 351h1v1h-1zM574 351h1v1h-1zM576 351h1v1h-1zM582 351h1v1h-1zM521 352h2v1h-2zM534 352h1v1h-1zM573 352h1v1h-1zM576 352h1v1h-1zM582 352h1v1h-1zM521 353h2v1h-2zM534 353h1v1h-1zM573 353h1v1h-1zM575 353h1v1h-1zM581 353h1v1h-1zM522 354h2v1h-2zM535 354h1v1h-1zM573 354h1v1h-1zM575 354h1v1h-1zM581 354h1v1h-1zM522 355h2v1h-2zM535 355h1v1h-1zM573 355h1v1h-1zM575 355h1v1h-1zM581 355h1v1h-1zM522 356h2v1h-2zM535 356h1v1h-1zM573 356h1v1h-1zM575 356h1v1h-1zM581 356h1v1h-1zM522 357h2v1h-2zM535 357h1v1h-1zM573 357h1v1h-1zM575 357h1v1h-1zM581 357h1v1h-1zM523 358h1v1h-1zM535 358h1v1h-1zM572 358h1v1h-1zM574 358h1v1h-1zM580 358h1v1h-1zM523 359h2v1h-2zM536 359h1v1h-1zM572 359h1v1h-1zM574 359h1v1h-1zM580 359h1v1h-1zM523 360h2v1h-2zM536 360h1v1h-1zM572 360h1v1h-1zM574 360h1v1h-1zM580 360h1v1h-1zM523 361h2v1h-2zM536 361h1v1h-1zM572 361h1v1h-1zM574 361h1v1h-1zM580 361h1v1h-1zM524 362h1v1h-1zM536 362h1v1h-1zM572 362h1v1h-1zM574 362h1v1h-1zM580 362h1v1h-1zM524 363h1v1h-1zM536 363h1v1h-1zM572 363h2v1h-2zM579 363h1v1h-1zM524 364h2v1h-2zM536 364h1v1h-1zM571 364h1v1h-1zM573 364h1v1h-1zM579 364h1v1h-1zM524 365h2v1h-2zM537 365h1v1h-1zM571 365h1v1h-1zM573 365h1v1h-1zM579 365h1v1h-1zM525 366h1v1h-1zM537 366h1v1h-1zM571 366h1v1h-1zM573 366h1v1h-1zM579 366h1v1h-1zM525 367h1v1h-1zM537 367h1v1h-1zM571 367h2v1h-2zM579 367h1v1h-1zM525 368h1v1h-1zM537 368h1v1h-1zM571 368h2v1h-2zM578 368h1v1h-1zM525 369h2v1h-2zM537 369h1v1h-1zM571 369h2v1h-2zM578 369h1v1h-1zM526 370h1v1h-1zM538 370h1v1h-1zM570 370h1v1h-1zM572 370h1v1h-1zM578 370h1v1h-1zM526 371h1v1h-1zM538 371h1v1h-1zM570 371h2v1h-2zM578 371h1v1h-1zM526 372h1v1h-1zM538 372h1v1h-1zM570 372h2v1h-2zM578 372h1v1h-1zM526 373h1v1h-1zM538 373h1v1h-1zM570 373h2v1h-2zM577 373h1v1h-1zM527 374h1v1h-1zM538 374h1v1h-1zM570 374h2v1h-2zM577 374h1v1h-1zM527 375h1v1h-1zM538 375h1v1h-1zM570 375h2v1h-2zM577 375h1v1h-1zM527 376h1v1h-1zM539 376h1v1h-1zM569 376h2v1h-2zM577 376h1v1h-1zM527 377h3v1h-3zM539 377h1v1h-1zM569 377h2v1h-2zM577 377h1v1h-1zM527 378h1v1h-1zM530 378h1v1h-1zM539 378h1v1h-1zM569 378h2v1h-2zM576 378h1v1h-1zM527 379h1v1h-1zM531 379h2v1h-2zM539 379h1v1h-1zM569 379h2v1h-2zM576 379h1v1h-1zM528 380h1v1h-1zM533 380h1v1h-1zM539 380h1v1h-1zM569 380h1v1h-1zM576 380h1v1h-1zM528 381h1v1h-1zM534 381h1v1h-1zM540 381h1v1h-1zM569 381h1v1h-1zM576 381h1v1h-1zM528 382h1v1h-1zM535 382h2v1h-2zM540 382h1v1h-1zM569 382h1v1h-1zM576 382h1v1h-1zM528 383h1v1h-1zM537 383h1v1h-1zM540 383h1v1h-1zM568 383h2v1h-2zM575 383h1v1h-1zM528 384h1v1h-1zM538 384h3v1h-3zM568 384h1v1h-1zM575 384h1v1h-1zM528 385h1v1h-1zM540 385h1v1h-1zM568 385h1v1h-1zM575 385h1v1h-1zM529 386h1v1h-1zM541 386h2v1h-2zM568 386h1v1h-1zM575 386h1v1h-1zM529 387h1v1h-1zM541 387h1v1h-1zM543 387h1v1h-1zM568 387h1v1h-1zM575 387h1v1h-1zM529 388h1v1h-1zM541 388h1v1h-1zM544 388h1v1h-1zM567 388h2v1h-2zM574 388h1v1h-1zM529 389h1v1h-1zM541 389h1v1h-1zM545 389h2v1h-2zM567 389h1v1h-1zM574 389h1v1h-1zM529 390h1v1h-1zM541 390h1v1h-1zM547 390h1v1h-1zM567 390h1v1h-1zM574 390h1v1h-1zM529 391h1v1h-1zM541 391h1v1h-1zM548 391h2v1h-2zM567 391h1v1h-1zM573 391h1v1h-1zM529 392h1v1h-1zM542 392h1v1h-1zM550 392h2v1h-2zM567 392h1v1h-1zM572 392h1v1h-1zM530 393h1v1h-1zM542 393h1v1h-1zM552 393h2v1h-2zM566 393h2v1h-2zM571 393h1v1h-1zM530 394h1v1h-1zM542 394h1v1h-1zM554 394h3v1h-3zM566 394h2v1h-2zM571 394h1v1h-1zM530 395h1v1h-1zM542 395h1v1h-1zM557 395h3v1h-3zM566 395h1v1h-1zM570 395h1v1h-1zM530 396h1v1h-1zM542 396h1v1h-1zM560 396h2v1h-2zM566 396h1v1h-1zM569 396h1v1h-1zM530 397h1v1h-1zM543 397h1v1h-1zM562 397h5v1h-5zM568 397h1v1h-1zM530 398h1v1h-1zM543 398h1v1h-1zM565 398h3v1h-3zM530 399h1v1h-1zM543 399h1v1h-1zM565 399h2v1h-2zM531 400h1v1h-1zM543 400h1v1h-1zM565 400h1v1h-1zM531 401h1v1h-1zM543 401h1v1h-1zM564 401h1v1h-1zM531 402h1v1h-1zM543 402h1v1h-1zM563 402h2v1h-2zM531 403h1v1h-1zM544 403h1v1h-1zM562 403h1v1h-1zM564 403h1v1h-1zM531 404h1v1h-1zM544 404h1v1h-1zM561 404h1v1h-1zM564 404h1v1h-1zM531 405h1v1h-1zM544 405h3v1h-3zM560 405h1v1h-1zM564 405h1v1h-1zM532 406h1v1h-1zM547 406h5v1h-5zM559 406h1v1h-1zM564 406h1v1h-1zM532 407h1v1h-1zM552 407h5v1h-5zM558 407h1v1h-1zM564 407h1v1h-1zM532 408h1v1h-1zM557 408h5v1h-5zM564 408h1v1h-1zM532 409h4v1h-4zM556 409h1v1h-1zM562 409h3v1h-3zM536 410h7v1h-7zM555 410h1v1h-1zM543 411h7v1h-7zM554 411h1v1h-1zM550 412h4v1h-4z"/>
</g>
</svg>

</body></html>
